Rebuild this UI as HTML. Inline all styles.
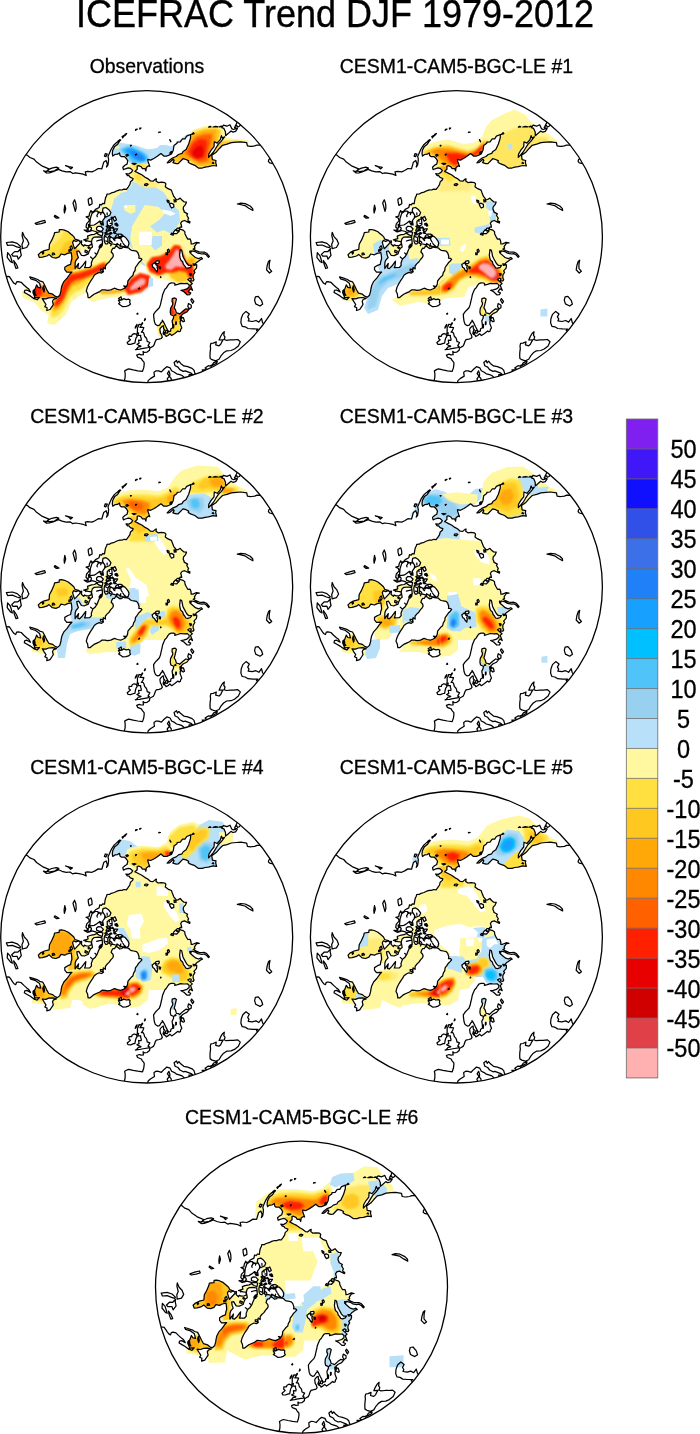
<!DOCTYPE html>
<html><head><meta charset="utf-8"><title>ICEFRAC Trend DJF 1979-2012</title>
<style>
html,body{margin:0;padding:0;background:#fff;}
body{width:700px;height:1434px;overflow:hidden;position:relative;font-family:"Liberation Sans",Arial,sans-serif;}
svg{position:absolute;left:0;top:0;display:block;}
text{font-family:"Liberation Sans",Arial,sans-serif;fill:#000;}
.ttl{font-size:36px;stroke:#000;stroke-width:0.35px;}
.sub{font-size:19.45px;stroke:#000;stroke-width:0.3px;}
.cbl{font-size:23.5px;stroke:#000;stroke-width:0.3px;}
.coast{fill:none;stroke:#000;stroke-width:1.25;stroke-linejoin:round;stroke-linecap:round;}
.ring{fill:none;stroke:#000;stroke-width:1.3;}
</style></head><body>
<svg width="700" height="1434" viewBox="0 0 700 1434">
<defs>
<filter id="bl" x="-20%" y="-20%" width="140%" height="140%"><feGaussianBlur stdDeviation="0.8"/></filter>
<clipPath id="clip"><circle cx="0" cy="0" r="146.0"/></clipPath>
<path id="coast" class="coast" d="M-22.8 145.9L-21.6 141.0L-21.5 137.4L-22.0 134.3L-19.4 132.8L-17.9 132.3L-13.5 133.3L-8.9 134.2L-4.2 134.8L-3.0 131.3L-2.5 127.7L-2.6 125.8L-4.5 123.6L-5.3 122.0L-9.1 120.5L-10.0 118.5L-7.4 117.5L-5.6 118.2L-3.3 118.0L-3.6 114.8L-2.4 115.8L0.4 115.5L2.8 113.6L3.1 111.4L4.8 110.5L6.7 109.4L7.7 107.5L8.6 104.7L9.6 103.1L12.4 102.5L14.5 101.9L15.6 100.5L14.8 97.9L13.7 96.2L13.2 92.7L13.8 91.4L15.6 89.6L16.7 89.1L17.0 92.4L17.9 92.8L17.0 94.5L16.4 96.7L17.1 97.8L19.0 98.7L19.4 99.9L21.2 98.9L23.2 97.2L25.0 98.9L28.1 96.8L31.2 94.3L32.4 95.2L33.7 94.6L33.9 93.0L35.1 91.3L33.5 87.1L33.5 84.6L34.8 83.7L36.5 85.2L37.8 84.5L36.7 81.0L35.1 80.7L34.4 79.1L36.7 77.0L40.1 75.4L42.3 72.8L39.2 72.2L36.3 74.4L32.9 77.5L31.8 76.7L29.7 76.3L28.8 73.2L27.5 71.2L28.2 68.7L29.3 64.2L29.7 62.4L28.1 61.3L25.5 62.1L25.3 64.9L26.1 66.2L25.9 68.1L23.9 71.6L23.5 75.4L24.2 78.2L27.0 79.4L26.7 81.7L25.4 84.3L25.9 87.5L26.1 91.2L24.2 92.2L23.9 94.5L21.9 95.0L20.5 92.6L18.9 89.6L16.9 85.5L15.6 83.6L15.6 85.1L14.5 85.8L12.8 88.6L10.9 89.1L8.7 87.6L7.7 85.0L7.1 80.7L6.9 77.8L8.6 75.3L10.9 72.9L12.6 71.2L13.7 68.3L14.4 65.0L15.3 61.3L15.9 58.2L17.0 55.5L18.2 52.7L19.7 51.3L21.2 48.8L22.6 47.0L24.6 46.3L27.3 46.4L28.4 47.3L28.0 48.5L31.0 47.7L33.9 46.7L37.4 47.0L40.7 46.8L42.4 48.3L42.4 50.5L40.2 52.3L36.9 53.3L34.2 53.7L37.2 55.2L40.4 58.2L43.0 58.1L44.0 56.3L41.6 55.2L43.5 52.2L45.8 53.7L43.8 48.6L45.6 46.9L43.9 45.4L41.1 42.9L43.2 41.7L44.6 42.3L44.0 44.0L46.5 44.4L47.3 43.1L46.4 41.1L46.5 38.4L48.2 35.7L47.2 34.3L49.7 31.6L50.0 30.0L50.0 28.3L48.4 27.6L50.2 25.6L52.0 24.4L53.9 22.9L55.8 22.2L54.4 20.9L51.9 22.0L48.7 20.9L47.1 19.5L44.2 17.0L43.6 15.4L45.2 14.2L48.7 15.1L51.2 16.6L55.3 17.4L57.3 17.0L59.6 18.2L61.8 20.7L62.7 19.8L60.0 16.6L57.4 15.4L55.0 15.5L52.4 15.3L49.1 13.9L46.5 12.5L48.2 11.6L47.7 10.1L48.9 8.2L50.0 6.6L52.6 6.3L49.8 5.7L46.2 7.3L44.5 7.4L44.3 4.7L43.4 2.3L41.1 2.5L39.6 0.0L38.3 -2.7L38.1 -5.0L36.5 -6.4L33.8 -7.2L32.7 -8.3L33.5 -9.6L35.0 -9.4L34.7 -11.3L34.0 -13.4L35.3 -15.3L37.9 -16.1L41.0 -14.5L43.0 -13.6L43.2 -14.9L41.5 -15.5L41.2 -17.1L41.9 -18.2L40.1 -21.3L40.9 -22.7L37.4 -24.7L37.4 -25.7L36.5 -27.5L36.8 -29.8L38.7 -31.9L39.8 -34.6L37.3 -34.8L35.2 -36.5L33.5 -38.5L31.2 -37.1L29.8 -36.8L27.1 -40.2L25.5 -44.2L24.7 -46.5L21.3 -47.9L18.6 -49.9L19.2 -52.7L18.1 -54.0L14.6 -54.4L11.5 -54.0L9.3 -55.6L9.7 -57.8L8.6 -57.4L6.3 -55.4L3.9 -55.6L1.0 -58.0L-1.6 -59.4L-4.9 -61.8L-7.8 -63.2L-10.8 -64.8L-11.8 -65.2L-9.5 -67.3L-9.5 -70.5L-8.1 -71.0L-5.5 -69.8L-4.2 -67.9L-1.8 -68.0L-0.8 -65.7L-0.4 -69.1L1.9 -70.8L3.1 -70.2L1.3 -75.2L1.1 -77.2L4.0 -76.5L7.5 -78.3L10.6 -80.3L14.2 -83.0L17.1 -80.6L20.1 -80.6L21.8 -81.3L24.8 -82.6L26.6 -86.4L27.3 -91.1L30.3 -93.3L30.5 -94.5L33.6 -94.8L35.8 -97.8L38.3 -97.8L40.0 -100.5L44.0 -102.1L43.8 -98.5L42.0 -92.6L39.4 -87.2L36.5 -85.2L35.3 -83.2L31.8 -82.1L29.5 -80.1L25.7 -78.6L22.6 -76.2L20.5 -73.8L22.7 -74.1L26.6 -77.4L27.4 -76.2L26.2 -73.9L29.5 -72.9L31.5 -73.0L36.3 -77.9L39.3 -77.1L42.0 -75.7L41.5 -74.3L43.8 -72.9L48.1 -71.3L51.7 -68.6L55.6 -68.6L58.3 -69.5L61.8 -69.9L66.3 -71.1L69.9 -70.6L69.0 -74.0L69.3 -76.1L65.7 -76.9L65.1 -81.3L69.5 -84.4L72.5 -87.9L75.8 -91.3L80.3 -92.4L84.6 -94.0L89.7 -94.5L94.1 -94.8L100.0 -93.9L100.7 -90.7L103.7 -90.2L104.9 -90.3L108.0 -90.7L110.3 -91.6L115.9 -91.5 M124.5 -79.3L122.1 -76.9L121.7 -75.2L122.9 -73.8L126.4 -73.0L128.5 -72.7 M0.5 147.7L1.5 144.0L3.7 142.0L7.8 139.5L7.5 137.6L7.3 135.6L9.4 134.2L11.8 134.3L14.7 135.3L17.4 132.4L20.1 130.1L23.4 131.2L24.9 134.2L27.8 135.6L29.9 137.2L33.2 138.1L35.4 138.9L37.8 141.0L39.7 142.2 M42.2 141.5L42.4 138.0L46.2 138.1L44.4 136.6L38.5 134.3L36.6 134.8L33.2 133.0L31.3 130.5L28.4 129.2L27.4 125.8L29.8 123.9L30.8 126.3L32.2 124.6L34.0 126.8L37.1 129.3L41.0 130.1L45.4 131.8L47.3 133.6L48.2 136.8L50.5 138.8 M57.5 136.0L55.5 133.3L58.0 133.3L60.2 132.7L58.4 131.3L61.6 129.1L63.1 129.4L64.9 128.5L64.3 130.7L65.2 132.5 M65.7 128.9L70.1 126.5L70.6 124.8L67.0 126.0L65.9 127.7Z M68.9 124.2L65.4 123.1L63.5 121.9L63.3 119.1L63.4 115.7L63.9 112.1L63.6 109.3L64.2 106.8L66.5 106.5L69.6 105.2L69.0 108.3L72.3 109.2L74.0 107.7L75.1 105.3L76.4 103.2L72.4 103.4L73.9 99.9L75.7 96.9L77.6 95.1L77.1 98.7L78.3 100.2L77.5 102.8L79.5 103.7L83.6 103.3L86.7 103.3L91.1 102.9L93.6 105.1L91.7 109.3L87.8 112.4L84.3 113.9L80.0 114.2L76.9 116.2L74.4 119.1L72.3 122.7L68.9 124.2Z M112.3 95.9L109.8 93.7L111.3 92.4L106.2 92.3L101.3 91.9L98.5 90.2L95.5 89.7L94.2 86.3L94.5 82.2L96.1 77.8L99.3 74.8L102.6 77.3L101.0 80.3L102.3 82.3L101.5 84.3L105.6 84.9L109.3 83.9L112.2 85.5L114.8 81.9L115.8 85.7L117.9 88.9 M113.3 69.4L109.0 67.3L107.9 63.6L108.7 60.3L111.5 59.8L114.8 63.7L116.0 67.5L113.3 69.4Z M122.8 36.4L119.8 33.2L120.5 28.9L121.8 24.8L123.3 23.5L122.6 27.2L122.5 31.7L125.0 34.7L122.8 36.4Z M106.2 -26.1L102.1 -28.3L98.2 -31.0L93.3 -32.1L90.6 -32.6L94.1 -33.5L98.5 -33.0L103.4 -30.6L106.0 -28.0L106.2 -26.1Z M42.6 72.3L41.1 69.8L41.8 66.9L44.6 68.6L44.5 71.1L42.6 72.3Z M45.9 66.7L44.1 63.4L45.0 62.0L47.1 64.8L45.9 66.7Z M22.1 146.0L20.5 142.2L22.2 140.0L22.5 139.2L20.7 136.9L22.2 134.3L23.2 137.4L23.0 140.2L24.5 141.9L24.9 145.6 M61.9 -79.2L62.1 -82.5L64.4 -86.4L67.3 -90.0L67.6 -94.8L70.5 -93.5L73.6 -97.0L74.7 -100.9L75.7 -98.6L77.9 -99.7L74.4 -95.2L71.7 -92.5L69.2 -88.6L66.8 -84.6L64.2 -81.6L61.9 -79.2Z M90.7 -108.0L88.9 -105.2L86.2 -104.5L84.3 -105.6L81.4 -103.0L78.9 -100.9L78.8 -104.6L77.2 -108.2L75.1 -108.9L76.6 -111.4L80.2 -110.4L83.3 -111.8L85.0 -108.0L86.7 -107.1L88.7 -107.6L87.8 -109.2L90.7 -108.0Z M94.9 -113.1L92.6 -110.3L90.9 -109.5L90.2 -111.0L88.4 -110.3L89.9 -113.0L90.9 -116.4 M-122.4 -82.6L-119.5 -81.5L-116.8 -79.1L-112.7 -77.5L-110.1 -74.5L-104.3 -70.4L-97.8 -67.7L-100.3 -65.1L-103.2 -65.8L-100.2 -63.6L-97.4 -63.8L-93.6 -65.0L-88.2 -67.2L-84.7 -65.7L-80.5 -64.7L-76.7 -65.0L-73.9 -63.1L-71.4 -63.8L-67.8 -63.3L-63.6 -62.5L-60.5 -61.1L-61.4 -64.7L-59.1 -65.2L-54.7 -64.7L-51.7 -66.1L-48.5 -68.1L-44.9 -67.8L-43.8 -71.5L-43.0 -74.4L-40.6 -76.1L-39.3 -72.4L-40.2 -69.6L-38.8 -71.4L-38.3 -74.6L-38.1 -77.4L-38.7 -80.0L-37.2 -83.6L-35.4 -87.6L-32.6 -91.9L-29.8 -94.4L-26.3 -96.7L-29.1 -92.4L-32.0 -90.2L-34.0 -86.3L-34.4 -82.9L-33.9 -80.6L-31.8 -82.1L-29.2 -82.4L-27.2 -83.7L-26.7 -81.1L-25.4 -80.0L-22.2 -80.0L-20.1 -77.8L-18.9 -75.7L-19.7 -72.5L-21.8 -71.3L-23.9 -69.4L-23.3 -66.9L-21.4 -67.8L-18.4 -68.7L-16.4 -68.3L-14.0 -66.2L-15.4 -64.2L-18.0 -62.6L-20.7 -63.0L-19.2 -61.0L-17.7 -60.9L-16.4 -59.2L-13.6 -58.1L-14.1 -56.6L-16.2 -54.8L-16.9 -52.0L-18.5 -49.6L-20.3 -47.2L-22.7 -47.5L-24.8 -46.6L-27.0 -46.7L-29.8 -45.8L-32.4 -44.5L-35.4 -43.7L-37.1 -42.6L-39.7 -42.5L-40.1 -40.8L-41.1 -39.0L-41.7 -36.2L-42.2 -32.9L-44.1 -33.2L-45.2 -31.7L-46.9 -32.2L-47.6 -29.1L-51.2 -27.2L-52.9 -25.2L-55.1 -24.5L-55.7 -26.0L-57.2 -23.1L-57.6 -20.4L-60.6 -19.7L-58.0 -18.3L-57.3 -15.9L-60.1 -12.8L-60.7 -9.6L-58.9 -7.8L-60.0 -6.3L-62.5 -6.6L-59.3 -4.7L-56.4 -5.4L-54.9 -6.1L-51.0 -5.1L-49.4 -3.9L-52.3 -2.3L-55.2 -1.9L-56.6 -1.5L-59.2 -0.5L-58.6 2.0L-63.0 3.3L-58.4 4.6L-55.4 5.0L-55.2 7.8L-57.4 8.8L-60.2 9.0L-62.3 8.2L-63.0 9.6L-65.3 7.4L-65.0 4.3L-67.0 4.7L-68.5 3.6L-71.7 2.5L-72.9 0.0L-74.0 -1.0L-76.0 -2.7L-78.5 -4.8L-82.2 -6.5L-85.1 -7.1L-87.4 -6.9L-87.6 -4.6L-92.1 -4.0L-92.7 -1.6L-94.8 3.3L-97.2 7.7L-97.6 12.8L-102.3 14.0L-106.0 15.8L-108.4 18.1L-107.3 20.9L-104.3 20.6L-99.9 19.4L-97.7 17.8L-94.3 20.9L-90.8 21.5L-87.5 20.2L-85.7 17.4L-81.9 18.2L-79.2 16.8L-75.5 16.0L-75.0 19.4L-74.8 22.2L-75.6 24.6L-76.1 27.7L-78.8 28.7L-81.9 30.6L-81.9 33.1L-79.9 35.6L-74.8 35.4L-76.7 37.4L-79.6 41.5L-82.8 45.0L-84.7 48.9L-85.5 52.4L-85.8 54.7L-86.9 58.6L-89.2 60.6L-91.7 59.6L-94.0 57.6L-97.9 56.5L-99.9 53.1L-102.0 48.7L-103.9 45.2L-107.0 44.3L-108.9 42.9L-113.5 41.3L-116.9 40.3L-115.9 42.2L-111.0 43.7L-107.1 46.6L-106.0 51.2L-108.6 50.7L-110.1 48.3L-111.6 52.5L-113.6 54.2L-113.7 56.2L-112.0 60.1L-112.3 62.3L-116.4 59.3L-120.0 57.2L-122.4 55.8L-121.9 53.8L-119.9 53.4L-116.2 55.4L-117.9 52.5L-120.0 50.9L-122.8 48.4L-125.5 45.7L-128.5 45.0L-130.1 45.3L-131.0 47.7L-132.7 46.7L-134.1 44.9L-135.5 42.7L-137.3 40.1L-138.7 39.8L-141.9 40.7 M-58.6 60.9L-59.1 57.1L-60.4 54.4L-59.4 50.7L-58.0 47.8L-56.1 44.6L-53.9 41.4L-52.4 38.7L-50.1 37.0L-47.5 35.8L-45.1 36.5L-43.2 35.2L-43.8 33.6L-43.3 30.9L-41.3 32.3L-41.3 29.4L-39.7 27.3L-37.6 25.4L-35.9 22.9L-34.0 20.8L-33.3 19.2L-33.8 17.2L-35.5 15.4L-34.7 13.0L-33.7 11.6L-32.2 11.7L-30.9 9.5L-29.3 10.1L-27.0 12.0L-24.6 11.5L-24.5 10.2L-22.1 10.8L-19.9 11.0L-18.1 11.3L-16.8 12.7L-15.3 13.7L-13.1 14.0L-10.2 14.6L-8.7 16.4L-8.1 18.2L-7.6 19.9L-7.9 21.6L-5.8 21.7L-4.8 22.8L-6.1 24.4L-8.0 26.2L-9.6 28.6L-11.3 30.9L-11.6 33.7L-13.1 36.1L-13.8 38.9L-15.5 40.3L-17.0 42.1L-18.8 44.4L-19.1 47.3L-20.2 49.9L-23.0 49.3L-21.1 51.0L-23.3 52.2L-26.1 53.4L-29.2 52.7L-32.3 51.6L-35.9 53.3L-39.1 53.8L-41.7 53.3L-44.6 53.2L-46.9 55.0L-49.8 56.3L-52.7 57.6L-55.0 59.4L-56.8 60.9L-58.6 60.9Z M-28.1 67.2L-26.8 66.2L-28.3 63.7L-25.7 63.6L-28.2 61.9L-25.6 60.2L-24.9 63.3L-23.0 62.1L-20.5 63.0L-18.0 62.6L-16.7 63.5L-17.0 65.8L-16.2 67.5L-18.2 69.1L-20.7 69.9L-23.9 70.1L-25.7 68.8L-28.1 67.2Z M-11.3 113.1L-8.9 112.7L-6.9 112.5L-4.9 112.0L-1.9 111.5L1.9 110.9L2.7 109.9L1.3 109.3L3.1 105.9L0.5 104.8L0.2 102.9L-0.4 101.4L-2.1 99.6L-2.7 97.2L-3.5 95.7L-5.3 95.6L-4.3 94.4L-3.4 92.4L-2.9 90.9L-5.5 90.5L-6.7 90.7L-4.8 87.9L-7.7 87.7L-8.3 89.7L-9.3 91.4L-9.2 93.8L-9.5 97.1L-8.1 96.3L-8.7 98.9L-6.0 98.8L-6.1 100.3L-5.4 102.2L-5.6 103.7L-8.1 103.5L-7.9 105.1L-7.6 106.6L-9.8 107.7L-8.0 108.7L-5.7 109.5L-6.3 110.1L-8.3 110.3L-10.2 112.6L-11.3 113.1Z M-11.8 106.6L-11.2 103.2L-10.6 101.2L-9.6 99.8L-10.4 97.6L-12.6 97.0L-14.5 98.0L-15.1 99.7L-17.6 99.6L-17.8 102.0L-16.3 103.2L-17.7 104.5L-19.5 106.0L-18.6 107.7L-16.1 107.8L-13.1 106.7L-11.8 106.6Z M10.4 35.3L8.7 33.5L7.8 31.7L6.2 30.6L5.4 28.0L6.5 27.2L7.6 26.3L8.7 26.8L9.6 28.6L11.1 28.9L10.3 30.7L10.9 32.5L10.5 34.4L10.4 35.3Z M8.6 25.7L9.4 24.5L10.8 24.3L12.3 24.2L12.6 25.9L11.5 27.0L9.7 26.8L8.6 25.7Z M12.6 31.9L12.4 29.9L13.9 30.4L13.6 32.1L12.6 31.9Z M45.1 28.8L43.8 30.7L41.1 31.6L39.2 31.2L38.0 29.2L36.7 27.7L36.0 25.2L34.0 23.3L33.3 20.8L32.9 18.2L33.3 15.5L33.5 13.0L35.0 13.8L35.6 16.6L36.2 19.7L37.4 22.1L38.8 24.7L40.0 26.9L42.0 28.9L45.1 28.8Z M19.4 18.1L19.3 16.2L20.9 16.4L20.7 18.0L19.4 18.1Z M21.0 15.3L20.7 13.4L21.8 12.6L22.8 14.2L22.2 15.6L21.0 15.3Z M30.0 -2.9L26.6 -3.3L27.0 -4.8L28.8 -6.9L30.2 -5.6L32.5 -5.4L30.5 -3.5L30.0 -2.9Z M31.9 -5.6L29.4 -6.8L30.6 -8.5L32.4 -8.4L32.6 -6.3L31.9 -5.6Z M26.5 -1.4L24.0 -2.1L24.9 -3.5L26.7 -2.8L26.5 -1.4Z M27.1 -29.6L24.9 -28.6L23.7 -30.3L22.8 -32.6L24.7 -33.4L27.0 -32.2L27.1 -29.6Z M22.3 -33.7L20.8 -34.6L20.3 -36.5L22.3 -35.7L22.3 -33.7Z M29.5 -34.9L27.6 -34.7L27.3 -36.9L28.8 -36.2L29.5 -34.9Z M1.4 -52.4L0.0 -51.0L-2.2 -51.5L-1.8 -52.6L0.0 -53.0L1.4 -52.4Z M-10.6 -73.0L-12.7 -72.0L-14.5 -73.2L-12.3 -73.3L-10.6 -73.0Z M-18.3 -81.3L-20.0 -80.3L-20.8 -81.6L-19.3 -82.2L-18.3 -81.3Z M-39.4 -82.6L-40.8 -80.0L-42.3 -80.5L-41.4 -83.0L-39.4 -82.6Z M-99.3 -65.5L-96.5 -65.1L-92.3 -65.8L-87.9 -68.6L-90.4 -69.4L-94.9 -68.5L-97.8 -67.2L-99.3 -65.5Z M-81.1 -71.0L-77.9 -70.1L-74.2 -69.2L-76.0 -67.7L-78.1 -69.8L-81.1 -71.0Z M-104.4 62.0L-100.9 62.3L-98.0 61.2L-93.8 60.9L-90.2 61.8L-93.2 62.9L-94.2 64.7L-93.4 67.9L-94.9 70.2L-96.7 72.9L-99.9 73.9L-99.6 71.1L-101.9 70.0L-100.7 67.9L-102.4 65.3L-104.4 62.0Z M-103.1 49.2L-102.2 53.2L-102.8 55.4L-103.9 51.8L-103.1 49.2Z M-112.0 53.9L-111.6 56.9L-110.6 58.8L-112.5 57.8L-112.8 55.0L-112.0 53.9Z M-112.3 61.0L-107.3 60.7L-109.6 63.2L-112.0 62.1L-112.3 61.0Z M-71.6 31.9L-68.1 26.8L-68.9 31.4L-67.1 32.0L-64.5 29.4L-60.9 24.6L-61.4 29.3L-62.1 31.0L-57.0 30.9L-55.2 28.8L-55.4 26.4L-53.9 22.3L-51.4 20.2L-49.5 17.1L-48.2 13.8L-46.5 10.3L-44.2 7.4L-44.4 3.9L-44.8 0.8L-48.2 0.2L-52.4 0.5L-54.3 1.9L-55.0 4.3L-55.2 5.3L-54.7 7.7L-54.2 10.5L-56.2 11.9L-57.6 14.9L-58.4 17.3L-62.3 19.0L-65.3 18.7L-67.9 14.4L-69.9 14.8L-69.4 18.0L-68.3 20.9L-70.7 23.7L-71.5 26.0L-71.6 28.9L-71.6 31.9Z M-67.9 3.6L-66.3 5.8L-67.3 7.1L-70.6 10.6L-72.1 12.1L-73.2 9.0L-74.1 5.8L-73.0 3.8L-70.7 4.9L-67.9 3.6Z M-75.2 9.2L-74.2 11.8L-75.7 13.4L-76.7 10.8L-75.2 9.2Z M-76.1 12.7L-75.6 14.0L-77.8 14.7L-77.8 13.3L-76.1 12.7Z M-92.8 16.4L-91.9 17.9L-94.3 18.3L-94.3 16.6L-92.8 16.4Z M-37.3 6.6L-36.8 4.5L-37.0 1.9L-35.7 0.3L-33.4 1.8L-31.5 2.2L-30.1 1.1L-27.3 1.9L-25.7 1.1L-24.1 -0.4L-22.2 0.0L-20.4 1.8L-18.7 4.0L-17.7 6.5L-18.3 9.3L-19.8 10.5L-21.8 10.2L-24.1 9.7L-26.4 9.1L-28.6 7.7L-31.1 8.0L-33.5 7.4L-35.5 7.2L-37.3 6.6Z M-32.0 1.4L-30.7 -1.1L-28.7 -2.5L-25.9 -2.5L-23.8 -1.2L-26.0 -0.2L-28.2 1.0L-30.1 0.5L-32.0 1.4Z M-41.1 7.3L-42.3 5.2L-42.6 1.5L-42.0 -1.5L-38.9 -2.0L-36.0 -4.1L-36.7 -1.9L-38.2 0.0L-38.9 2.0L-38.8 4.1L-38.5 6.1L-39.7 7.4L-41.1 7.3Z M-44.6 -0.4L-43.8 -4.2L-46.5 -4.9L-49.4 -4.3L-49.5 -3.0L-47.3 -1.7L-44.6 -0.4Z M-44.8 -5.5L-43.3 -7.6L-45.7 -10.1L-48.5 -10.3L-50.2 -8.9L-50.0 -6.6L-47.3 -5.8L-44.8 -5.5Z M-55.4 -8.8L-55.2 -7.8L-56.9 -5.5L-58.6 -5.6L-58.5 -8.7L-56.6 -10.0L-55.4 -8.8Z M-57.0 -11.1L-56.6 -15.2L-56.3 -18.3L-54.7 -23.2L-51.4 -25.6L-49.0 -25.5L-48.4 -23.6L-45.5 -24.2L-43.4 -24.0L-41.8 -21.7L-42.0 -18.7L-44.0 -16.0L-43.4 -12.4L-45.7 -12.3L-47.2 -15.3L-49.8 -13.3L-52.5 -11.6L-57.0 -11.1Z M-43.7 -28.4L-40.8 -29.1L-38.1 -27.2L-35.8 -24.1L-36.9 -21.3L-41.0 -19.5L-42.0 -21.9L-44.2 -25.5L-43.7 -28.4Z M-37.6 -10.4L-34.5 -11.9L-34.7 -15.1L-35.0 -17.8L-37.5 -17.1L-39.5 -15.2L-39.4 -12.1L-37.6 -10.4Z M-39.8 -5.2L-35.9 -6.3L-37.5 -8.6L-39.5 -8.4L-40.7 -6.4L-39.8 -5.2Z M-41.1 -2.5L-39.4 -3.4L-40.4 -4.6L-41.9 -3.7L-41.1 -2.5Z M-32.2 -15.4L-30.2 -16.8L-31.7 -20.2L-33.9 -18.8L-32.2 -15.4Z M-32.0 -4.5L-30.1 -5.9L-29.1 -7.8L-31.4 -7.8L-33.0 -5.8L-32.0 -4.5Z M-31.4 -11.4L-29.5 -11.9L-30.1 -13.4L-31.8 -12.8L-31.4 -11.4Z M-46.0 11.1L-44.5 9.1L-44.8 7.3L-46.4 8.2L-46.0 11.1Z M-124.2 -4.3L-122.4 0.0L-119.5 3.1L-117.8 7.2L-120.0 10.9L-124.3 12.0L-124.7 7.6L-123.3 4.3L-124.6 -1.1L-124.2 -4.3Z M-140.3 5.9L-134.4 5.2L-129.5 6.8L-126.1 9.9L-127.0 11.1L-129.9 10.2L-134.3 8.4L-139.1 8.8L-140.3 5.9Z M-125.9 12.1L-126.3 14.4L-125.4 18.7L-128.4 22.6L-129.5 19.4L-133.7 19.5L-135.0 17.8L-132.0 15.0L-128.8 15.1L-125.9 12.1Z M-139.1 16.1L-136.4 19.2L-134.3 26.1L-136.1 25.2L-139.5 20.8L-139.1 16.1Z M-133.0 23.9L-130.3 27.7L-128.8 31.4L-130.7 31.9L-132.5 26.9L-133.0 23.9Z M-111.6 -13.3L-106.8 -15.0L-102.0 -16.2L-101.3 -14.2L-105.5 -13.0L-110.2 -12.2L-111.6 -13.3Z M-81.9 -31.4L-81.0 -27.9L-82.3 -23.6L-82.6 -26.8L-81.9 -31.4Z M-72.1 -36.8L-70.8 -33.0L-70.5 -28.5L-71.4 -25.3L-72.7 -30.1L-73.7 -33.6L-72.1 -36.8Z M-55.7 -39.0L-54.8 -36.3L-54.6 -32.8L-57.5 -31.2L-58.3 -34.4L-58.5 -37.3L-55.7 -39.0Z M-91.8 -21.2L-87.8 -18.7L-90.3 -18.4L-92.4 -20.1L-91.8 -21.2Z M-32.6 -4.6L-30.5 -3.2L-32.2 -3.1L-33.2 -4.1Z M-33.1 -7.7L-32.3 -6.3L-33.4 -6.2Z M-34.3 -9.8L-32.7 -8.4L-34.1 -8.5L-34.7 -9.3Z M-29.4 -12.8L-28.7 -11.0L-29.7 -10.5L-30.4 -12.0Z M-36.3 -9.7L-35.5 -8.5L-37.0 -8.2L-37.6 -9.4Z M-39.8 -10.7L-38.9 -9.7L-39.8 -9.4L-40.5 -10.3Z M-34.4 -19.5L-33.9 -18.0L-35.1 -18.1L-35.5 -19.3Z M-44.9 -13.3L-43.3 -11.6L-45.3 -11.7Z M-61.4 13.6L-59.1 14.7L-59.8 16.3L-61.8 15.4Z M-103.7 14.6L-102.9 16.3L-103.9 17.4L-104.5 15.6Z M-46.3 32.6L-43.4 32.7L-44.0 34.7L-46.2 34.2Z M-8.3 52.3L-7.2 51.3L-7.2 52.0Z M13.8 40.9L14.0 40.1L14.3 40.6Z M43.7 39.0L42.9 36.9L44.6 37.1L44.6 38.4Z M47.1 28.8L46.4 27.3L48.5 27.5L48.5 28.6Z M43.3 16.2L43.1 14.4L44.5 14.5L44.2 16.1Z M-9.9 77.4L-9.0 76.5L-8.8 77.6Z M-2.3 83.9L-1.6 81.8L-1.3 83.0Z M-5.0 87.0L-4.2 86.1L-4.1 87.0Z M-11.0 89.7L-9.7 87.8L-9.7 89.3L-11.5 91.4Z M29.0 88.1L29.0 85.3L29.7 85.3L29.6 87.6Z M26.9 91.3L27.0 89.0L27.0 87.8L27.1 89.6Z M33.6 83.2L33.4 81.4L34.8 80.8L35.2 81.6L34.2 82.7Z M33.2 80.9L33.4 79.8L34.1 80.3Z M19.1 96.3L18.8 94.2L20.7 93.5L21.2 95.5L20.5 96.6Z M16.8 97.0L16.8 95.4L18.3 96.1L18.0 97.1Z M28.0 78.8L28.6 77.6L29.3 78.3Z M-26.0 -96.5L-28.0 -94.7L-28.8 -95.4L-26.9 -96.9Z M-21.9 -101.5L-24.1 -98.8L-24.6 -100.0Z M-20.0 -103.1L-21.8 -100.9L-21.7 -102.2Z M-9.4 -107.4L-11.2 -106.3L-10.9 -107.3Z M-5.7 -108.6L-6.8 -107.6L-7.0 -108.5Z M13.8 -104.5L12.0 -104.1L12.3 -104.6Z M24.2 -94.8L23.4 -95.9L23.1 -96.9L24.0 -95.5Z M47.4 -103.0L45.1 -102.3L46.7 -103.9Z M71.3 -109.8L66.4 -109.6L68.9 -110.3Z M75.6 -110.1L72.6 -109.8L74.5 -110.4Z M64.3 -109.7L62.0 -109.5L63.2 -110.3Z M25.1 -84.7L23.3 -83.0L23.4 -84.2L24.7 -85.1Z M67.1 -73.2L65.5 -73.5L66.4 -74.3Z M-10.1 -82.4L-11.0 -81.4L-11.2 -82.1Z M-15.3 -91.2L-16.0 -90.6L-16.2 -91.2Z M-60.7 3.7L-59.8 4.4L-61.0 4.7Z M-58.0 10.2L-57.0 11.1L-58.0 11.8L-58.7 10.9Z M-57.3 -12.2L-57.1 -10.6L-58.0 -10.2L-58.3 -11.9Z M-35.4 -4.0L-34.7 -3.0L-35.8 -2.8L-36.3 -3.8Z M-36.8 -0.3L-35.9 0.3L-36.9 0.6Z M-24.6 -0.9L-26.0 1.4L-25.5 3.6L-24.4 5.2 M-20.8 9.7L-22.6 8.2L-23.8 6.4 M-33.4 1.2L-33.1 2.9L-31.8 3.9 M-37.1 3.9L-35.3 5.0L-34.6 6.1 M-28.5 -1.5L-28.2 -0.5L-27.4 0.0 M-44.7 3.1L-48.0 3.8L-50.0 4.4 M-46.4 8.2L-47.5 9.7L-47.5 11.0 M-50.6 17.4L-51.8 16.3 M-54.8 21.6L-56.1 20.4 M-47.7 -24.8L-49.8 -21.1L-49.4 -19.9 M-45.5 -24.2L-46.0 -22.0 M-44.8 -14.5L-47.1 -15.6 M-37.5 -17.1L-37.4 -15.1 M-35.0 -13.1L-36.6 -13.3 M-37.8 -7.0L-39.0 -6.5 M-41.2 0.0L-39.8 0.7 M-41.0 4.3L-39.5 4.9 M-39.6 -23.8L-39.5 -21.9 M-30.0 9.7L-30.2 8.1L-29.6 6.8 M-26.6 10.2L-26.3 8.5L-25.9 6.9 M-36.0 9.0L-35.2 7.5"/>
<path id="land" fill="#fff" d="M-22.8 145.9L-21.6 141.0L-21.5 137.4L-22.0 134.3L-19.4 132.8L-17.9 132.3L-13.5 133.3L-8.9 134.2L-4.2 134.8L-3.0 131.3L-2.5 127.7L-2.6 125.8L-4.5 123.6L-5.3 122.0L-9.1 120.5L-10.0 118.5L-7.4 117.5L-5.6 118.2L-3.3 118.0L-3.6 114.8L-2.4 115.8L0.4 115.5L2.8 113.6L3.1 111.4L4.8 110.5L6.7 109.4L7.7 107.5L8.6 104.7L9.6 103.1L12.4 102.5L14.5 101.9L15.6 100.5L14.8 97.9L13.7 96.2L13.2 92.7L13.8 91.4L15.6 89.6L16.7 89.1L17.0 92.4L17.9 92.8L17.0 94.5L16.4 96.7L17.1 97.8L19.0 98.7L19.4 99.9L21.2 98.9L23.2 97.2L25.0 98.9L28.1 96.8L31.2 94.3L32.4 95.2L33.7 94.6L33.9 93.0L35.1 91.3L33.5 87.1L33.5 84.6L34.8 83.7L36.5 85.2L37.8 84.5L36.7 81.0L35.1 80.7L34.4 79.1L36.7 77.0L40.1 75.4L42.3 72.8L39.2 72.2L36.3 74.4L32.9 77.5L31.8 76.7L29.7 76.3L28.8 73.2L27.5 71.2L28.2 68.7L29.3 64.2L29.7 62.4L28.1 61.3L25.5 62.1L25.3 64.9L26.1 66.2L25.9 68.1L23.9 71.6L23.5 75.4L24.2 78.2L27.0 79.4L26.7 81.7L25.4 84.3L25.9 87.5L26.1 91.2L24.2 92.2L23.9 94.5L21.9 95.0L20.5 92.6L18.9 89.6L16.9 85.5L15.6 83.6L15.6 85.1L14.5 85.8L12.8 88.6L10.9 89.1L8.7 87.6L7.7 85.0L7.1 80.7L6.9 77.8L8.6 75.3L10.9 72.9L12.6 71.2L13.7 68.3L14.4 65.0L15.3 61.3L15.9 58.2L17.0 55.5L18.2 52.7L19.7 51.3L21.2 48.8L22.6 47.0L24.6 46.3L27.3 46.4L28.4 47.3L28.0 48.5L31.0 47.7L33.9 46.7L37.4 47.0L40.7 46.8L42.4 48.3L42.4 50.5L40.2 52.3L36.9 53.3L34.2 53.7L37.2 55.2L40.4 58.2L43.0 58.1L44.0 56.3L41.6 55.2L43.5 52.2L45.8 53.7L43.8 48.6L45.6 46.9L43.9 45.4L41.1 42.9L43.2 41.7L44.6 42.3L44.0 44.0L46.5 44.4L47.3 43.1L46.4 41.1L46.5 38.4L48.2 35.7L47.2 34.3L49.7 31.6L50.0 30.0L50.0 28.3L48.4 27.6L50.2 25.6L52.0 24.4L53.9 22.9L55.8 22.2L54.4 20.9L51.9 22.0L48.7 20.9L47.1 19.5L44.2 17.0L43.6 15.4L45.2 14.2L48.7 15.1L51.2 16.6L55.3 17.4L57.3 17.0L59.6 18.2L61.8 20.7L62.7 19.8L60.0 16.6L57.4 15.4L55.0 15.5L52.4 15.3L49.1 13.9L46.5 12.5L48.2 11.6L47.7 10.1L48.9 8.2L50.0 6.6L52.6 6.3L49.8 5.7L46.2 7.3L44.5 7.4L44.3 4.7L43.4 2.3L41.1 2.5L39.6 0.0L38.3 -2.7L38.1 -5.0L36.5 -6.4L33.8 -7.2L32.7 -8.3L33.5 -9.6L35.0 -9.4L34.7 -11.3L34.0 -13.4L35.3 -15.3L37.9 -16.1L41.0 -14.5L43.0 -13.6L43.2 -14.9L41.5 -15.5L41.2 -17.1L41.9 -18.2L40.1 -21.3L40.9 -22.7L37.4 -24.7L37.4 -25.7L36.5 -27.5L36.8 -29.8L38.7 -31.9L39.8 -34.6L37.3 -34.8L35.2 -36.5L33.5 -38.5L31.2 -37.1L29.8 -36.8L27.1 -40.2L25.5 -44.2L24.7 -46.5L21.3 -47.9L18.6 -49.9L19.2 -52.7L18.1 -54.0L14.6 -54.4L11.5 -54.0L9.3 -55.6L9.7 -57.8L8.6 -57.4L6.3 -55.4L3.9 -55.6L1.0 -58.0L-1.6 -59.4L-4.9 -61.8L-7.8 -63.2L-10.8 -64.8L-11.8 -65.2L-9.5 -67.3L-9.5 -70.5L-8.1 -71.0L-5.5 -69.8L-4.2 -67.9L-1.8 -68.0L-0.8 -65.7L-0.4 -69.1L1.9 -70.8L3.1 -70.2L1.3 -75.2L1.1 -77.2L4.0 -76.5L7.5 -78.3L10.6 -80.3L14.2 -83.0L17.1 -80.6L20.1 -80.6L21.8 -81.3L24.8 -82.6L26.6 -86.4L27.3 -91.1L30.3 -93.3L30.5 -94.5L33.6 -94.8L35.8 -97.8L38.3 -97.8L40.0 -100.5L44.0 -102.1L43.8 -98.5L42.0 -92.6L39.4 -87.2L36.5 -85.2L35.3 -83.2L31.8 -82.1L29.5 -80.1L25.7 -78.6L22.6 -76.2L20.5 -73.8L22.7 -74.1L26.6 -77.4L27.4 -76.2L26.2 -73.9L29.5 -72.9L31.5 -73.0L36.3 -77.9L39.3 -77.1L42.0 -75.7L41.5 -74.3L43.8 -72.9L48.1 -71.3L51.7 -68.6L55.6 -68.6L58.3 -69.5L61.8 -69.9L66.3 -71.1L69.9 -70.6L69.0 -74.0L69.3 -76.1L65.7 -76.9L65.1 -81.3L69.5 -84.4L72.5 -87.9L75.8 -91.3L80.3 -92.4L84.6 -94.0L89.7 -94.5L94.1 -94.8L100.0 -93.9L100.7 -90.7L103.7 -90.2L104.9 -90.3L108.0 -90.7L110.3 -91.6L115.9 -91.5L156.5 -123.6L175.3 -95.2L188.9 -64.0L197.1 -30.9L199.4 3.1L196.0 37.0L186.8 69.9L172.2 100.6L152.6 128.5L128.5 152.6L100.6 172.2L69.9 186.8L37.0 196.0L3.1 199.4L-30.9 197.1Z M-122.4 -82.6L-119.5 -81.5L-116.8 -79.1L-112.7 -77.5L-110.1 -74.5L-104.3 -70.4L-97.8 -67.7L-100.3 -65.1L-103.2 -65.8L-100.2 -63.6L-97.4 -63.8L-93.6 -65.0L-88.2 -67.2L-84.7 -65.7L-80.5 -64.7L-76.7 -65.0L-73.9 -63.1L-71.4 -63.8L-67.8 -63.3L-63.6 -62.5L-60.5 -61.1L-61.4 -64.7L-59.1 -65.2L-54.7 -64.7L-51.7 -66.1L-48.5 -68.1L-44.9 -67.8L-43.8 -71.5L-43.0 -74.4L-40.6 -76.1L-39.3 -72.4L-40.2 -69.6L-38.8 -71.4L-38.3 -74.6L-38.1 -77.4L-38.7 -80.0L-37.2 -83.6L-35.4 -87.6L-32.6 -91.9L-29.8 -94.4L-26.3 -96.7L-29.1 -92.4L-32.0 -90.2L-34.0 -86.3L-34.4 -82.9L-33.9 -80.6L-31.8 -82.1L-29.2 -82.4L-27.2 -83.7L-26.7 -81.1L-25.4 -80.0L-22.2 -80.0L-20.1 -77.8L-18.9 -75.7L-19.7 -72.5L-21.8 -71.3L-23.9 -69.4L-23.3 -66.9L-21.4 -67.8L-18.4 -68.7L-16.4 -68.3L-14.0 -66.2L-15.4 -64.2L-18.0 -62.6L-20.7 -63.0L-19.2 -61.0L-17.7 -60.9L-16.4 -59.2L-13.6 -58.1L-14.1 -56.6L-16.2 -54.8L-16.9 -52.0L-18.5 -49.6L-20.3 -47.2L-22.7 -47.5L-24.8 -46.6L-27.0 -46.7L-29.8 -45.8L-32.4 -44.5L-35.4 -43.7L-37.1 -42.6L-39.7 -42.5L-40.1 -40.8L-41.1 -39.0L-41.7 -36.2L-42.2 -32.9L-44.1 -33.2L-45.2 -31.7L-46.9 -32.2L-47.6 -29.1L-51.2 -27.2L-52.9 -25.2L-55.1 -24.5L-55.7 -26.0L-57.2 -23.1L-57.6 -20.4L-60.6 -19.7L-58.0 -18.3L-57.3 -15.9L-60.1 -12.8L-60.7 -9.6L-58.9 -7.8L-60.0 -6.3L-62.5 -6.6L-59.3 -4.7L-56.4 -5.4L-54.9 -6.1L-51.0 -5.1L-49.4 -3.9L-52.3 -2.3L-55.2 -1.9L-56.6 -1.5L-59.2 -0.5L-58.6 2.0L-63.0 3.3L-58.4 4.6L-55.4 5.0L-55.2 7.8L-57.4 8.8L-60.2 9.0L-62.3 8.2L-63.0 9.6L-65.3 7.4L-65.0 4.3L-67.0 4.7L-68.5 3.6L-71.7 2.5L-72.9 0.0L-74.0 -1.0L-76.0 -2.7L-78.5 -4.8L-82.2 -6.5L-85.1 -7.1L-87.4 -6.9L-87.6 -4.6L-92.1 -4.0L-92.7 -1.6L-94.8 3.3L-97.2 7.7L-97.6 12.8L-102.3 14.0L-106.0 15.8L-108.4 18.1L-107.3 20.9L-104.3 20.6L-99.9 19.4L-97.7 17.8L-94.3 20.9L-90.8 21.5L-87.5 20.2L-85.7 17.4L-81.9 18.2L-79.2 16.8L-75.5 16.0L-75.0 19.4L-74.8 22.2L-75.6 24.6L-76.1 27.7L-78.8 28.7L-81.9 30.6L-81.9 33.1L-79.9 35.6L-74.8 35.4L-76.7 37.4L-79.6 41.5L-82.8 45.0L-84.7 48.9L-85.5 52.4L-85.8 54.7L-86.9 58.6L-89.2 60.6L-91.7 59.6L-94.0 57.6L-97.9 56.5L-99.9 53.1L-102.0 48.7L-103.9 45.2L-107.0 44.3L-108.9 42.9L-113.5 41.3L-116.9 40.3L-115.9 42.2L-111.0 43.7L-107.1 46.6L-106.0 51.2L-108.6 50.7L-110.1 48.3L-111.6 52.5L-113.6 54.2L-113.7 56.2L-112.0 60.1L-112.3 62.3L-116.4 59.3L-120.0 57.2L-122.4 55.8L-121.9 53.8L-119.9 53.4L-116.2 55.4L-117.9 52.5L-120.0 50.9L-122.8 48.4L-125.5 45.7L-128.5 45.0L-130.1 45.3L-131.0 47.7L-132.7 46.7L-134.1 44.9L-135.5 42.7L-137.3 40.1L-138.7 39.8L-141.9 40.7L-191.7 55.0L-197.7 26.6L-199.5 -2.3L-197.0 -31.2L-190.4 -59.4L-179.8 -86.4L-165.4 -111.5Z M61.9 -79.2L62.1 -82.5L64.4 -86.4L67.3 -90.0L67.6 -94.8L70.5 -93.5L73.6 -97.0L74.7 -100.9L75.7 -98.6L77.9 -99.7L74.4 -95.2L71.7 -92.5L69.2 -88.6L66.8 -84.6L64.2 -81.6L61.9 -79.2Z M90.7 -108.0L88.9 -105.2L86.2 -104.5L84.3 -105.6L81.4 -103.0L78.9 -100.9L78.8 -104.6L77.2 -108.2L75.1 -108.9L76.6 -111.4L80.2 -110.4L83.3 -111.8L85.0 -108.0L86.7 -107.1L88.7 -107.6L87.8 -109.2L90.7 -108.0Z M-58.6 60.9L-59.1 57.1L-60.4 54.4L-59.4 50.7L-58.0 47.8L-56.1 44.6L-53.9 41.4L-52.4 38.7L-50.1 37.0L-47.5 35.8L-45.1 36.5L-43.2 35.2L-43.8 33.6L-43.3 30.9L-41.3 32.3L-41.3 29.4L-39.7 27.3L-37.6 25.4L-35.9 22.9L-34.0 20.8L-33.3 19.2L-33.8 17.2L-35.5 15.4L-34.7 13.0L-33.7 11.6L-32.2 11.7L-30.9 9.5L-29.3 10.1L-27.0 12.0L-24.6 11.5L-24.5 10.2L-22.1 10.8L-19.9 11.0L-18.1 11.3L-16.8 12.7L-15.3 13.7L-13.1 14.0L-10.2 14.6L-8.7 16.4L-8.1 18.2L-7.6 19.9L-7.9 21.6L-5.8 21.7L-4.8 22.8L-6.1 24.4L-8.0 26.2L-9.6 28.6L-11.3 30.9L-11.6 33.7L-13.1 36.1L-13.8 38.9L-15.5 40.3L-17.0 42.1L-18.8 44.4L-19.1 47.3L-20.2 49.9L-23.0 49.3L-21.1 51.0L-23.3 52.2L-26.1 53.4L-29.2 52.7L-32.3 51.6L-35.9 53.3L-39.1 53.8L-41.7 53.3L-44.6 53.2L-46.9 55.0L-49.8 56.3L-52.7 57.6L-55.0 59.4L-56.8 60.9L-58.6 60.9Z M-28.1 67.2L-26.8 66.2L-28.3 63.7L-25.7 63.6L-28.2 61.9L-25.6 60.2L-24.9 63.3L-23.0 62.1L-20.5 63.0L-18.0 62.6L-16.7 63.5L-17.0 65.8L-16.2 67.5L-18.2 69.1L-20.7 69.9L-23.9 70.1L-25.7 68.8L-28.1 67.2Z M-11.3 113.1L-8.9 112.7L-6.9 112.5L-4.9 112.0L-1.9 111.5L1.9 110.9L2.7 109.9L1.3 109.3L3.1 105.9L0.5 104.8L0.2 102.9L-0.4 101.4L-2.1 99.6L-2.7 97.2L-3.5 95.7L-5.3 95.6L-4.3 94.4L-3.4 92.4L-2.9 90.9L-5.5 90.5L-6.7 90.7L-4.8 87.9L-7.7 87.7L-8.3 89.7L-9.3 91.4L-9.2 93.8L-9.5 97.1L-8.1 96.3L-8.7 98.9L-6.0 98.8L-6.1 100.3L-5.4 102.2L-5.6 103.7L-8.1 103.5L-7.9 105.1L-7.6 106.6L-9.8 107.7L-8.0 108.7L-5.7 109.5L-6.3 110.1L-8.3 110.3L-10.2 112.6L-11.3 113.1Z M-11.8 106.6L-11.2 103.2L-10.6 101.2L-9.6 99.8L-10.4 97.6L-12.6 97.0L-14.5 98.0L-15.1 99.7L-17.6 99.6L-17.8 102.0L-16.3 103.2L-17.7 104.5L-19.5 106.0L-18.6 107.7L-16.1 107.8L-13.1 106.7L-11.8 106.6Z M10.4 35.3L8.7 33.5L7.8 31.7L6.2 30.6L5.4 28.0L6.5 27.2L7.6 26.3L8.7 26.8L9.6 28.6L11.1 28.9L10.3 30.7L10.9 32.5L10.5 34.4L10.4 35.3Z M8.6 25.7L9.4 24.5L10.8 24.3L12.3 24.2L12.6 25.9L11.5 27.0L9.7 26.8L8.6 25.7Z M12.6 31.9L12.4 29.9L13.9 30.4L13.6 32.1L12.6 31.9Z M45.1 28.8L43.8 30.7L41.1 31.6L39.2 31.2L38.0 29.2L36.7 27.7L36.0 25.2L34.0 23.3L33.3 20.8L32.9 18.2L33.3 15.5L33.5 13.0L35.0 13.8L35.6 16.6L36.2 19.7L37.4 22.1L38.8 24.7L40.0 26.9L42.0 28.9L45.1 28.8Z M19.4 18.1L19.3 16.2L20.9 16.4L20.7 18.0L19.4 18.1Z M21.0 15.3L20.7 13.4L21.8 12.6L22.8 14.2L22.2 15.6L21.0 15.3Z M30.0 -2.9L26.6 -3.3L27.0 -4.8L28.8 -6.9L30.2 -5.6L32.5 -5.4L30.5 -3.5L30.0 -2.9Z M31.9 -5.6L29.4 -6.8L30.6 -8.5L32.4 -8.4L32.6 -6.3L31.9 -5.6Z M26.5 -1.4L24.0 -2.1L24.9 -3.5L26.7 -2.8L26.5 -1.4Z M27.1 -29.6L24.9 -28.6L23.7 -30.3L22.8 -32.6L24.7 -33.4L27.0 -32.2L27.1 -29.6Z M22.3 -33.7L20.8 -34.6L20.3 -36.5L22.3 -35.7L22.3 -33.7Z M29.5 -34.9L27.6 -34.7L27.3 -36.9L28.8 -36.2L29.5 -34.9Z M1.4 -52.4L0.0 -51.0L-2.2 -51.5L-1.8 -52.6L0.0 -53.0L1.4 -52.4Z M-10.6 -73.0L-12.7 -72.0L-14.5 -73.2L-12.3 -73.3L-10.6 -73.0Z M-18.3 -81.3L-20.0 -80.3L-20.8 -81.6L-19.3 -82.2L-18.3 -81.3Z M-39.4 -82.6L-40.8 -80.0L-42.3 -80.5L-41.4 -83.0L-39.4 -82.6Z M-99.3 -65.5L-96.5 -65.1L-92.3 -65.8L-87.9 -68.6L-90.4 -69.4L-94.9 -68.5L-97.8 -67.2L-99.3 -65.5Z M-81.1 -71.0L-77.9 -70.1L-74.2 -69.2L-76.0 -67.7L-78.1 -69.8L-81.1 -71.0Z M-104.4 62.0L-100.9 62.3L-98.0 61.2L-93.8 60.9L-90.2 61.8L-93.2 62.9L-94.2 64.7L-93.4 67.9L-94.9 70.2L-96.7 72.9L-99.9 73.9L-99.6 71.1L-101.9 70.0L-100.7 67.9L-102.4 65.3L-104.4 62.0Z M-103.1 49.2L-102.2 53.2L-102.8 55.4L-103.9 51.8L-103.1 49.2Z M-112.0 53.9L-111.6 56.9L-110.6 58.8L-112.5 57.8L-112.8 55.0L-112.0 53.9Z M-112.3 61.0L-107.3 60.7L-109.6 63.2L-112.0 62.1L-112.3 61.0Z M-71.6 31.9L-68.1 26.8L-68.9 31.4L-67.1 32.0L-64.5 29.4L-60.9 24.6L-61.4 29.3L-62.1 31.0L-57.0 30.9L-55.2 28.8L-55.4 26.4L-53.9 22.3L-51.4 20.2L-49.5 17.1L-48.2 13.8L-46.5 10.3L-44.2 7.4L-44.4 3.9L-44.8 0.8L-48.2 0.2L-52.4 0.5L-54.3 1.9L-55.0 4.3L-55.2 5.3L-54.7 7.7L-54.2 10.5L-56.2 11.9L-57.6 14.9L-58.4 17.3L-62.3 19.0L-65.3 18.7L-67.9 14.4L-69.9 14.8L-69.4 18.0L-68.3 20.9L-70.7 23.7L-71.5 26.0L-71.6 28.9L-71.6 31.9Z M-67.9 3.6L-66.3 5.8L-67.3 7.1L-70.6 10.6L-72.1 12.1L-73.2 9.0L-74.1 5.8L-73.0 3.8L-70.7 4.9L-67.9 3.6Z M-75.2 9.2L-74.2 11.8L-75.7 13.4L-76.7 10.8L-75.2 9.2Z M-76.1 12.7L-75.6 14.0L-77.8 14.7L-77.8 13.3L-76.1 12.7Z M-92.8 16.4L-91.9 17.9L-94.3 18.3L-94.3 16.6L-92.8 16.4Z M-37.3 6.6L-36.8 4.5L-37.0 1.9L-35.7 0.3L-33.4 1.8L-31.5 2.2L-30.1 1.1L-27.3 1.9L-25.7 1.1L-24.1 -0.4L-22.2 0.0L-20.4 1.8L-18.7 4.0L-17.7 6.5L-18.3 9.3L-19.8 10.5L-21.8 10.2L-24.1 9.7L-26.4 9.1L-28.6 7.7L-31.1 8.0L-33.5 7.4L-35.5 7.2L-37.3 6.6Z M-32.0 1.4L-30.7 -1.1L-28.7 -2.5L-25.9 -2.5L-23.8 -1.2L-26.0 -0.2L-28.2 1.0L-30.1 0.5L-32.0 1.4Z M-41.1 7.3L-42.3 5.2L-42.6 1.5L-42.0 -1.5L-38.9 -2.0L-36.0 -4.1L-36.7 -1.9L-38.2 0.0L-38.9 2.0L-38.8 4.1L-38.5 6.1L-39.7 7.4L-41.1 7.3Z M-44.6 -0.4L-43.8 -4.2L-46.5 -4.9L-49.4 -4.3L-49.5 -3.0L-47.3 -1.7L-44.6 -0.4Z M-44.8 -5.5L-43.3 -7.6L-45.7 -10.1L-48.5 -10.3L-50.2 -8.9L-50.0 -6.6L-47.3 -5.8L-44.8 -5.5Z M-55.4 -8.8L-55.2 -7.8L-56.9 -5.5L-58.6 -5.6L-58.5 -8.7L-56.6 -10.0L-55.4 -8.8Z M-57.0 -11.1L-56.6 -15.2L-56.3 -18.3L-54.7 -23.2L-51.4 -25.6L-49.0 -25.5L-48.4 -23.6L-45.5 -24.2L-43.4 -24.0L-41.8 -21.7L-42.0 -18.7L-44.0 -16.0L-43.4 -12.4L-45.7 -12.3L-47.2 -15.3L-49.8 -13.3L-52.5 -11.6L-57.0 -11.1Z M-43.7 -28.4L-40.8 -29.1L-38.1 -27.2L-35.8 -24.1L-36.9 -21.3L-41.0 -19.5L-42.0 -21.9L-44.2 -25.5L-43.7 -28.4Z M-37.6 -10.4L-34.5 -11.9L-34.7 -15.1L-35.0 -17.8L-37.5 -17.1L-39.5 -15.2L-39.4 -12.1L-37.6 -10.4Z M-39.8 -5.2L-35.9 -6.3L-37.5 -8.6L-39.5 -8.4L-40.7 -6.4L-39.8 -5.2Z M-41.1 -2.5L-39.4 -3.4L-40.4 -4.6L-41.9 -3.7L-41.1 -2.5Z M-32.2 -15.4L-30.2 -16.8L-31.7 -20.2L-33.9 -18.8L-32.2 -15.4Z M-32.0 -4.5L-30.1 -5.9L-29.1 -7.8L-31.4 -7.8L-33.0 -5.8L-32.0 -4.5Z M-31.4 -11.4L-29.5 -11.9L-30.1 -13.4L-31.8 -12.8L-31.4 -11.4Z M-46.0 11.1L-44.5 9.1L-44.8 7.3L-46.4 8.2L-46.0 11.1Z M-32.6 -4.6L-30.5 -3.2L-32.2 -3.1L-33.2 -4.1Z M-33.1 -7.7L-32.3 -6.3L-33.4 -6.2Z M-34.3 -9.8L-32.7 -8.4L-34.1 -8.5L-34.7 -9.3Z M-29.4 -12.8L-28.7 -11.0L-29.7 -10.5L-30.4 -12.0Z M-36.3 -9.7L-35.5 -8.5L-37.0 -8.2L-37.6 -9.4Z M-39.8 -10.7L-38.9 -9.7L-39.8 -9.4L-40.5 -10.3Z M-34.4 -19.5L-33.9 -18.0L-35.1 -18.1L-35.5 -19.3Z M-44.9 -13.3L-43.3 -11.6L-45.3 -11.7Z M-61.4 13.6L-59.1 14.7L-59.8 16.3L-61.8 15.4Z M-103.7 14.6L-102.9 16.3L-103.9 17.4L-104.5 15.6Z M-46.3 32.6L-43.4 32.7L-44.0 34.7L-46.2 34.2Z M-8.3 52.3L-7.2 51.3L-7.2 52.0Z M13.8 40.9L14.0 40.1L14.3 40.6Z M43.7 39.0L42.9 36.9L44.6 37.1L44.6 38.4Z M47.1 28.8L46.4 27.3L48.5 27.5L48.5 28.6Z M43.3 16.2L43.1 14.4L44.5 14.5L44.2 16.1Z M-9.9 77.4L-9.0 76.5L-8.8 77.6Z M-2.3 83.9L-1.6 81.8L-1.3 83.0Z M-5.0 87.0L-4.2 86.1L-4.1 87.0Z M-11.0 89.7L-9.7 87.8L-9.7 89.3L-11.5 91.4Z M29.0 88.1L29.0 85.3L29.7 85.3L29.6 87.6Z M26.9 91.3L27.0 89.0L27.0 87.8L27.1 89.6Z M33.6 83.2L33.4 81.4L34.8 80.8L35.2 81.6L34.2 82.7Z M33.2 80.9L33.4 79.8L34.1 80.3Z M19.1 96.3L18.8 94.2L20.7 93.5L21.2 95.5L20.5 96.6Z M16.8 97.0L16.8 95.4L18.3 96.1L18.0 97.1Z M28.0 78.8L28.6 77.6L29.3 78.3Z M-26.0 -96.5L-28.0 -94.7L-28.8 -95.4L-26.9 -96.9Z M-21.9 -101.5L-24.1 -98.8L-24.6 -100.0Z M-20.0 -103.1L-21.8 -100.9L-21.7 -102.2Z M-9.4 -107.4L-11.2 -106.3L-10.9 -107.3Z M-5.7 -108.6L-6.8 -107.6L-7.0 -108.5Z M13.8 -104.5L12.0 -104.1L12.3 -104.6Z M24.2 -94.8L23.4 -95.9L23.1 -96.9L24.0 -95.5Z M47.4 -103.0L45.1 -102.3L46.7 -103.9Z M71.3 -109.8L66.4 -109.6L68.9 -110.3Z M75.6 -110.1L72.6 -109.8L74.5 -110.4Z M64.3 -109.7L62.0 -109.5L63.2 -110.3Z M25.1 -84.7L23.3 -83.0L23.4 -84.2L24.7 -85.1Z M67.1 -73.2L65.5 -73.5L66.4 -74.3Z M-10.1 -82.4L-11.0 -81.4L-11.2 -82.1Z M-15.3 -91.2L-16.0 -90.6L-16.2 -91.2Z M-60.7 3.7L-59.8 4.4L-61.0 4.7Z M-58.0 10.2L-57.0 11.1L-58.0 11.8L-58.7 10.9Z M-57.3 -12.2L-57.1 -10.6L-58.0 -10.2L-58.3 -11.9Z M-35.4 -4.0L-34.7 -3.0L-35.8 -2.8L-36.3 -3.8Z M-36.8 -0.3L-35.9 0.3L-36.9 0.6Z"/>
<path id="qei" fill="#fff" d="M-32.2 -20.9L-30.3 -16.1L-29.6 -10.8L-28.6 -6.6L-27.2 -2.9L-23.5 -1.2L-24.6 0.9L-30.0 2.6L-34.3 1.2L-37.6 1.3L-39.8 -1.4L-41.0 -4.3L-40.0 -10.0L-39.3 -14.3L-36.2 -18.5L-32.2 -20.9Z M-43.8 -30.7L-49.5 -28.6L-56.4 -26.3L-61.9 -20.1L-61.9 -10.9L-60.6 -5.3L-55.0 -4.8L-49.2 -6.0L-44.7 -7.9L-41.7 -11.2L-40.0 -16.2L-40.8 -19.9L-42.1 -23.4L-46.2 -23.5L-45.2 -27.1L-43.8 -30.7Z"/>
</defs>
<rect width="700" height="1434" fill="#fff"/>
<text class="ttl" transform="translate(335 26.6) scale(1 1.06)" text-anchor="middle">ICEFRAC Trend DJF 1979-2012</text>
<text class="sub" transform="translate(146.9 73.2) scale(1 1.04)" text-anchor="middle">Observations</text>
<g transform="translate(146.7 236.6)"><g clip-path="url(#clip)">
<path d="M-56.7 -23.7L-46.4 -42.6L-34.4 -49.5L-13.8 -56.3L-0.1 -51.2L15.3 -52.9L25.6 -42.6L39.3 -32.3L42.7 -15.2L39.3 2.0L32.4 8.8L18.7 19.1L3.3 26.0L-1.8 29.4L-8.7 26.0L-13.8 14.0L-19.8 5.4L-31.0 7.1L-46.4 5.4L-56.7 -1.5Z" fill="#B8E0F8"/>
<path d="M-18.1 -66.6L-5.3 -64.9L10.2 -58.0L22.2 -51.2L34.2 -39.2L44.4 -32.3L47.9 -15.2L46.2 -1.5L53.0 14.0L56.4 26.0L46.2 39.7L35.9 32.8L29.0 14.0L23.0 0.3L29.0 -8.3L33.3 -15.2L32.4 -25.5L23.9 -34.0L17.0 -44.3L8.4 -49.5L-0.1 -49.5L-5.3 -53.7L-13.8 -54.6L-19.8 -59.7Z" fill="#FFF8A0"/>
<path d="M-44.7 -37.5L-39.6 -42.6L-32.7 -46.0L-19.8 -48.6L-19.8 -45.2L-31.0 -42.6L-37.8 -38.3L-42.1 -32.3Z" fill="#FFF8A0"/>
<path d="M-18.1 -61.5L-30.1 -47.7L-38.7 -42.6L-41.8 -34.0L-49.8 -26.3L-61.0 -23.7L-62.7 -10.0L-61.0 2.0L-49.8 5.4L-45.6 -1.5L-48.1 -10.0L-45.6 -16.9L-41.8 -21.7L-35.3 -28.0L-32.7 -37.5L-25.0 -44.3L-14.7 -51.2Z" fill="#FFF8A0"/>
<path d="M-1.8 -31.5L11.9 -29.7L18.7 -23.7L12.7 -16.9L3.3 -10.0L10.2 -4.0L17.0 -6.6L23.9 -3.2L26.4 5.4L20.4 14.0L11.9 22.5L-0.1 29.4L-7.0 22.5L-13.8 12.3L-16.4 2.0L-14.7 -10.0L-8.7 -20.3Z" fill="#FFF8A0"/>
<path d="M-22.4 -31.5L-11.3 -31.5L-11.3 -24.6L-16.4 -22.9L-22.4 -26.3Z" fill="#FFF8A0"/>
<path d="M5.9 -0.6L15.3 -0.6L15.3 8.8L8.4 14.0L4.2 8.8Z" fill="#B8E0F8"/>
<path d="M-7.8 -4.9L5.0 -4.9L5.0 8.3L-7.8 8.3Z" fill="#FFFFFF"/>
<path d="M-22.4 -30.6L-19.8 -30.6L-19.8 -28.5L-22.4 -28.5Z" fill="#FFFFFF"/>
<path d="M15.3 -27.2L23.9 -25.5L29.0 -22.9L23.9 -20.7L17.0 -23.7Z" fill="#FFFFFF"/>
<path d="M-56.7 -1.5L-46.4 2.0L-36.1 7.1L-29.3 10.5L-19.8 5.4L-12.1 15.7L-5.3 26.0L-13.8 43.1L-31.0 53.4L-56.7 53.4Z" fill="#FFF8A0"/>
<path d="M-16.0 -73.7L1.2 -73.7L1.9 -68.7L-3.1 -64.5L1.2 -58.7L11.9 -54.5L10.4 -50.2L0.4 -48.7L-8.1 -51.6L-13.1 -57.3L-16.7 -64.5L-18.8 -68.7Z" fill="#FFEC80" filter="url(#bl)"/>
<path d="M-13.1 -72.7L-1.0 -72.7L-1.3 -69.0L-5.3 -68.0L-12.4 -68.7Z" fill="#FFE040" filter="url(#bl)"/>
<path d="M-12.4 -62.3L-6.0 -63.0L-3.8 -57.3L-8.1 -55.2L-11.7 -57.3Z" fill="#FFE040" filter="url(#bl)"/>
<path d="M-34.6 -83.7L-32.4 -88.7L-28.1 -94.2L-21.7 -93.0L-16.0 -92.3L-9.6 -90.9L-3.8 -88.7L1.9 -87.0L10.4 -88.7L13.3 -91.6L19.0 -91.6L24.7 -90.2L29.0 -93.7L35.4 -98.7L41.2 -103.0L45.4 -100.9L39.7 -93.7L34.0 -88.0L28.3 -82.3L22.6 -79.5L14.7 -80.9L10.4 -77.3L3.3 -74.7L1.2 -72.7L-16.0 -72.7L-18.8 -76.6L-20.3 -79.5L-25.3 -80.9L-32.4 -80.9Z" fill="#B8E0F8"/>
<path d="M-26.7 -87.3L-18.1 -90.5L-11.0 -88.5L-3.8 -84.7L1.2 -80.9L0.4 -75.9L-6.7 -73.7L-13.8 -73.7L-17.4 -76.6L-18.8 -80.9L-23.8 -83.0Z" fill="#50C4F8" filter="url(#bl)"/>
<path d="M-22.4 -87.0L-16.0 -88.7L-10.3 -85.9L-3.8 -82.3L-0.7 -78.7L-1.3 -75.9L-6.7 -75.2L-12.4 -77.3L-16.0 -80.9L-20.3 -83.7Z" fill="#18A0FF" filter="url(#bl)"/>
<path d="M-14.6 -85.9L-9.3 -83.7L-3.6 -79.5L-3.6 -76.5L-8.1 -77.0L-12.8 -80.5L-15.3 -83.6Z" fill="#2080F8" filter="url(#bl)"/>
<path d="M-31.7 -90.2L-27.4 -90.9L-27.4 -88.0L-31.7 -88.0Z" fill="#FFF8A0"/>
<path d="M21.0 -78.3L30.2 -87.5L39.3 -97.7L46.2 -106.9L57.6 -110.3L71.3 -111.0L80.4 -109.2L78.2 -100.0L85.0 -97.7L101.0 -96.6L102.2 -90.9L85.0 -90.9L73.6 -87.5L71.3 -70.3L62.2 -66.9L50.7 -68.0L41.6 -72.6L30.2 -71.5L22.2 -73.7Z" fill="#FFF8A0"/>
<path d="M23.3 -77.6L32.4 -85.2L40.4 -95.5L47.3 -104.6L57.6 -108.0L70.2 -108.7L74.7 -105.7L71.3 -95.5L80.4 -95.9L91.9 -95.5L91.9 -92.7L78.2 -92.0L70.2 -87.5L69.0 -71.5L61.0 -69.2L50.7 -70.3L41.6 -76.0L31.3 -73.7L23.8 -74.9Z" fill="#FFC820" filter="url(#bl)"/>
<path d="M31.3 -79.5L39.3 -90.9L46.2 -101.2L57.6 -105.7L69.0 -106.9L69.0 -95.5L65.6 -87.5L65.6 -73.7L53.0 -71.5L43.9 -76.7L35.9 -76.0Z" fill="#FFA808" filter="url(#bl)"/>
<path d="M38.2 -82.9L43.9 -93.2L49.6 -100.0L58.7 -102.3L65.6 -102.3L64.0 -93.2L61.7 -85.2L61.0 -75.3L52.6 -74.4L45.0 -79.0Z" fill="#FF6000" filter="url(#bl)"/>
<path d="M42.0 -85.2L46.6 -93.2L53.0 -97.3L59.9 -96.6L59.9 -88.6L58.0 -79.5L50.7 -77.2L44.3 -80.6Z" fill="#FF2000" filter="url(#bl)"/>
<path d="M45.7 -84.5L49.6 -89.7L55.3 -91.3L57.1 -85.9L55.3 -79.5L49.6 -78.5L46.2 -81.3Z" fill="#E80000" filter="url(#bl)"/>
<path d="M-110.7 -8.6L-69.7 -8.6L-69.7 26.4L-110.7 26.4Z" fill="#FFE040" filter="url(#bl)"/>
<path d="M-110.7 -8.6L-80.7 -8.6L-86.7 1.4L-98.7 13.4L-110.7 17.4Z" fill="#FFEC78" filter="url(#bl)"/>
<path d="M-86.7 13.4L-80.7 5.4L-69.7 2.4L-69.7 26.4L-86.7 26.4Z" fill="#FFC820" filter="url(#bl)"/>
<path d="M-69.7 -8.6L-56.7 -8.6L-56.7 13.4L-69.7 13.4Z" fill="#FFF8A0"/>
<path d="M-81.7 17.4L-73.7 11.4L-66.7 13.4L-64.7 23.4L-70.7 35.4L-81.7 35.4Z" fill="#FFA808" filter="url(#bl)"/>
<path d="M-58.7 3.4L-30.7 3.4L-30.7 23.4L-38.7 33.4L-60.7 33.4Z" fill="#FFF8A0"/>
<path d="M-79.6 35.5L-58.1 29.8L-41.0 21.3L-32.4 21.3L-35.3 31.3L-46.7 41.3L-58.1 49.8L-59.6 55.5L-68.1 59.8L-75.3 65.5L-81.0 78.4L-92.4 88.4L-99.6 87.0L-98.1 78.4L-105.3 74.1L-112.4 65.5L-123.8 61.3L-125.3 55.5L-115.3 47.0L-91.0 48.4Z" fill="#FFF8A0"/>
<path d="M-81.0 37.0L-58.1 31.3L-41.0 24.1L-36.7 27.0L-41.0 34.1L-52.4 41.3L-59.6 47.0L-63.8 52.0L-71.0 54.8L-78.1 61.3L-82.4 71.3L-88.1 78.4L-94.6 81.3L-96.0 74.1L-92.4 65.5L-88.1 58.4Z" fill="#FFE040" filter="url(#bl)"/>
<path d="M-82.4 38.4L-69.6 34.8L-55.3 31.3L-42.4 25.5L-38.8 28.4L-42.4 33.4L-53.8 39.5L-59.6 42.0L-66.7 46.3L-73.8 49.1L-79.6 57.0L-83.1 65.5L-88.1 72.0L-93.1 74.8L-94.6 69.8L-90.3 62.7L-86.7 54.1L-84.6 45.5Z" fill="#FFA808" filter="url(#bl)"/>
<path d="M-81.7 44.1L-77.0 37.7L-66.7 35.8L-53.8 32.0L-43.1 26.3L-39.6 29.1L-43.1 33.4L-55.3 38.4L-63.8 42.0L-71.0 44.1L-76.0 47.0L-79.6 54.1L-82.4 61.3L-86.7 67.7L-91.3 71.0L-93.0 68.1L-89.6 63.0L-86.0 55.8L-84.4 49.1Z" fill="#FF6000" filter="url(#bl)"/>
<path d="M-80.7 44.8L-76.4 38.8L-66.7 37.0L-53.8 33.0L-43.6 27.3L-40.7 29.5L-44.6 33.1L-55.3 37.5L-63.8 40.8L-71.3 42.7L-76.4 45.5L-80.3 52.7L-83.0 59.8L-87.3 66.3L-91.0 69.1L-92.1 67.0L-88.8 62.0L-85.3 55.3L-83.6 49.1Z" fill="#FF2000" filter="url(#bl)"/>
<path d="M-114.6 49.1L-108.1 47.0L-102.4 50.5L-96.7 56.3L-91.0 59.1L-92.4 62.0L-99.6 61.3L-105.3 61.3L-111.0 61.3L-114.6 57.0Z" fill="#FF8800" filter="url(#bl)"/>
<path d="M-113.8 49.8L-107.4 47.7L-103.8 52.7L-105.3 59.1L-111.7 60.5L-114.1 56.3Z" fill="#FF2000" filter="url(#bl)"/>
<path d="M-60.7 59.4L-46.7 51.4L-30.7 50.4L-18.7 43.4L-6.7 35.4L3.3 39.4L4.3 47.4L-6.7 57.4L-22.7 59.4L-38.7 61.4L-54.7 65.4Z" fill="#FFF8A0"/>
<path d="M-46.7 54.4L-30.7 53.4L-20.7 49.4L-18.7 54.4L-32.7 57.0L-45.7 57.4Z" fill="#FFA808" filter="url(#bl)"/>
<path d="M-22.7 51.4L-15.7 41.8L-6.7 36.4L3.3 39.0L3.3 48.4L-5.7 55.4L-18.7 58.4Z" fill="#FF2000" filter="url(#bl)"/>
<path d="M-17.1 51.4L-11.7 45.4L-5.7 41.4L-1.1 42.6L-1.7 47.4L-8.7 51.4L-15.7 53.8Z" fill="#FFB0B0" filter="url(#bl)"/>
<path d="M2.3 41.4L6.3 41.4L6.3 49.4L1.3 50.4Z" fill="#B8E0F8"/>
<path d="M-2.4 26.3L3.3 17.7L16.2 14.8L26.2 6.3L37.6 2.0L46.2 10.5L54.7 19.1L51.9 30.5L47.6 42.0L46.2 59.1L31.9 59.1L30.4 46.3L20.4 43.4L9.0 42.0L0.4 36.3Z" fill="#FFF8A0"/>
<path d="M20.4 30.5L40.4 27.7L43.3 36.3L40.4 44.8L30.4 45.5L23.3 40.5Z" fill="#FFC820" filter="url(#bl)"/>
<path d="M0.4 27.7L4.7 21.3L14.0 19.1L21.9 14.8L27.6 8.4L33.3 9.1L36.2 16.3L39.7 24.1L46.2 27.7L46.9 40.5L43.3 43.4L39.7 36.3L33.3 34.8L26.2 36.3L19.0 36.3L11.9 39.1L3.3 34.8Z" fill="#FF8800" filter="url(#bl)"/>
<path d="M0.4 27.7L5.4 20.8L14.0 19.8L22.2 16.0L27.9 8.8L33.3 9.4L35.9 17.0L39.3 24.8L45.9 28.4L47.3 39.8L43.3 42.3L40.2 35.1L33.3 33.4L26.2 35.5L19.0 35.5L11.9 38.4L3.3 34.8Z" fill="#FF2000" filter="url(#bl)"/>
<path d="M18.3 29.1L22.6 24.1L26.9 17.7L29.3 12.7L32.6 13.4L33.6 22.0L36.4 27.7L39.3 30.8L33.3 30.5L29.0 30.0L24.7 33.4L19.7 32.7Z" fill="#FFB0B0" filter="url(#bl)"/>
<path d="M39.7 20.5L46.2 17.7L51.9 22.0L49.0 27.7L43.3 27.0Z" fill="#FFE040" filter="url(#bl)"/>
<path d="M40.4 22.7L46.2 22.0L48.3 25.5L44.7 27.7Z" fill="#FFA808" filter="url(#bl)"/>
<path d="M34.0 49.8L46.2 47.7L46.2 57.7L37.6 58.4Z" fill="#FF2000" filter="url(#bl)"/>
<path d="M10.4 87.7L20.4 79.1L21.9 60.5L30.4 60.5L30.4 73.4L41.9 70.5L41.9 79.1L36.2 84.8L34.7 96.3L19.0 100.5L11.9 96.3Z" fill="#FFF8A0"/>
<path d="M23.3 77.7L33.3 77.7L34.0 94.8L20.4 99.1L14.0 93.4L19.0 87.7Z" fill="#FFE040" filter="url(#bl)"/>
<path d="M11.2 88.4L19.7 86.3L20.7 99.1L12.6 99.8Z" fill="#FFE040" filter="url(#bl)"/>
<path d="M24.7 77.0L32.6 77.0L31.9 84.8L26.2 86.3Z" fill="#FFA808" filter="url(#bl)"/>
<path d="M20.7 62.0L27.6 61.3L26.9 70.5L29.0 77.0L24.7 79.1L21.2 74.8Z" fill="#FF2000" filter="url(#bl)"/>
<path d="M30.4 77.0L33.3 73.4L40.4 71.3L41.2 75.5L34.7 79.1Z" fill="#FF2000" filter="url(#bl)"/>
<use href="#land"/>
<use href="#coast"/></g><circle class="ring" r="146.0"/></g>
<text class="sub" transform="translate(456.4 73.2) scale(1 1.04)" text-anchor="middle">CESM1-CAM5-BGC-LE #1</text>
<g transform="translate(456.4 236.6)"><g clip-path="url(#clip)">
<path d="M-56.4 -23.7L-46.1 -42.6L-34.1 -49.5L-19.5 -59.7L-17.8 -66.6L-5.0 -64.9L10.5 -58.0L22.5 -51.2L34.5 -39.2L44.7 -32.3L48.2 -15.2L46.5 -1.5L53.3 14.0L56.7 26.0L53.3 39.7L39.6 43.1L19.0 39.7L3.6 36.3L-5.0 43.1L-13.5 53.4L-56.4 53.4Z" fill="#FFF8A0"/>
<path d="M30.2 -34.9L36.2 -36.6L40.5 -32.3L39.6 -16.9L33.6 -15.2L32.7 -25.5L29.3 -29.7Z" fill="#B8E0F8"/>
<path d="M31.9 -26.3L36.2 -25.5L34.5 -19.5L31.9 -21.2Z" fill="#FFFFFF"/>
<path d="M18.2 -9.2L32.7 -12.6L33.6 -6.6L24.2 -2.8L18.2 -4.0Z" fill="#B8E0F8"/>
<path d="M14.7 -40.9L19.0 -40.9L19.9 -32.3L15.6 -33.2Z" fill="#FFFFFF"/>
<path d="M5.3 -46.9L7.9 -46.9L7.9 -44.7L5.3 -44.7Z" fill="#FFFFFF"/>
<path d="M-21.3 1.1L-6.7 1.1L-5.8 8.8L-19.5 9.7Z" fill="#B8E0F8"/>
<path d="M-15.3 2.8L-7.5 2.8L-7.5 8.0L-15.3 8.0Z" fill="#FFFFFF"/>
<path d="M4.5 9.7L8.7 7.1L9.6 10.5L6.2 15.7L3.6 14.0Z" fill="#FFFFFF"/>
<path d="M-5.8 26.8L5.3 26.8L6.2 34.5L0.2 39.7L-5.8 38.0Z" fill="#B8E0F8"/>
<path d="M-56.4 15.7L-46.1 14.0L-35.8 17.4L-34.1 29.4L-46.1 43.1L-56.4 46.5Z" fill="#B8E0F8"/>
<path d="M-22.1 -70.3L19.0 -71.5L21.3 -61.2L12.2 -45.2L-17.5 -45.2L-15.3 -58.9Z" fill="#FFEC80" filter="url(#bl)"/>
<path d="M-19.8 -71.5L5.3 -71.5L3.0 -61.2L-7.3 -54.3L-14.1 -61.2Z" fill="#FFE040" filter="url(#bl)"/>
<path d="M-18.7 -73.7L0.7 -72.6L-1.5 -65.7L-10.7 -63.5L-15.3 -68.0Z" fill="#FFA808" filter="url(#bl)"/>
<path d="M-37.0 -81.7L-33.5 -89.7L-22.1 -94.8L-8.4 -97.1L7.6 -92.5L19.0 -94.3L25.9 -100.0L29.3 -109.2L35.0 -116.0L46.5 -122.4L57.9 -126.8L68.2 -122.4L75.0 -114.2L81.9 -110.3L92.2 -102.3L101.3 -95.5L101.3 -89.7L80.7 -89.7L72.7 -70.3L51.0 -64.6L41.9 -71.5L22.5 -72.6L12.2 -70.3L-37.0 -70.3Z" fill="#FFF8A0"/>
<path d="M23.6 -76.0L35.0 -90.9L44.2 -102.3L57.9 -108.0L73.9 -111.0L78.9 -104.6L80.7 -100.0L92.2 -98.9L89.9 -92.0L76.2 -92.0L68.9 -84.0L69.8 -70.3L51.0 -68.0L39.6 -76.7Z" fill="#FFE660" filter="url(#bl)"/>
<path d="M51.7 -92.0L55.6 -93.2L56.1 -88.1L52.4 -86.8Z" fill="#B8E0F8"/>
<path d="M-34.7 -84.0L-22.1 -89.7L-8.4 -91.3L3.0 -87.9L12.2 -85.6L21.3 -89.1L27.0 -95.9L32.7 -95.5L26.3 -84.5L19.0 -79.0L3.5 -73.1L1.2 -67.6L-10.7 -69.9L-19.8 -74.4L-22.1 -80.1Z" fill="#FFC820" filter="url(#bl)"/>
<path d="M-26.7 -85.2L-17.5 -88.1L-7.3 -87.5L3.0 -85.2L12.2 -82.9L20.2 -86.3L25.4 -92.0L30.0 -93.2L24.1 -83.6L12.2 -77.6L3.5 -74.4L-0.4 -69.2L-8.4 -72.6L-15.3 -77.2L-19.8 -81.7Z" fill="#FF8800" filter="url(#bl)"/>
<path d="M-11.8 -83.6L0.7 -83.6L12.2 -81.1L19.0 -84.5L24.7 -90.2L27.7 -90.9L23.1 -83.6L12.2 -77.9L3.5 -75.3L-1.1 -70.8L-6.6 -74.9Z" fill="#FF2000" filter="url(#bl)"/>
<path d="M-110.4 -8.6L-56.4 -8.6L-56.4 26.4L-110.4 26.4Z" fill="#FFF8A0"/>
<path d="M-83.4 7.4L-76.4 3.4L-68.4 5.4L-66.4 19.4L-60.4 29.4L-76.4 35.4L-81.4 23.4Z" fill="#B8E0F8"/>
<path d="M-50.4 3.4L-30.4 3.4L-30.4 23.4L-46.4 26.4Z" fill="#FFF8A0"/>
<path d="M-66.4 26.4L-38.4 21.4L-36.4 31.4L-46.4 41.4L-58.4 47.4L-68.4 51.4L-74.4 59.4L-78.4 73.4L-88.4 77.4L-92.4 71.4L-88.4 59.4L-84.4 49.4L-76.4 37.4Z" fill="#B8E0F8"/>
<path d="M-76.4 40.4L-60.4 33.4L-43.4 26.4L-41.4 31.4L-56.4 41.4L-68.4 45.4L-76.4 53.4L-80.4 69.4L-88.4 73.4L-89.4 67.4L-85.4 55.4L-82.0 47.4Z" fill="#98D0F0" filter="url(#bl)"/>
<path d="M-73.4 41.4L-62.4 37.4L-59.4 38.6L-68.4 42.6L-74.0 45.8L-77.4 48.4L-76.8 45.0Z" fill="#50C4F8" filter="url(#bl)"/>
<path d="M-116.4 49.4L-100.4 46.4L-90.4 57.4L-96.4 65.4L-114.4 63.4Z" fill="#FFF8A0"/>
<path d="M-113.4 50.4L-101.4 49.0L-96.4 57.4L-102.4 61.8L-111.4 60.4Z" fill="#FFC820" filter="url(#bl)"/>
<path d="M-110.4 52.4L-103.4 51.4L-102.4 57.4L-108.4 59.0Z" fill="#FFA808" filter="url(#bl)"/>
<path d="M-64.4 63.4L-46.4 50.4L-30.4 50.4L-18.4 43.4L-8.4 33.4L1.6 26.4L13.6 23.4L13.6 43.4L3.6 49.4L-6.4 57.4L-14.4 63.4L-22.4 67.4L-38.4 65.4L-56.4 69.4Z" fill="#FFF8A0"/>
<path d="M-7.4 28.4L5.6 26.4L7.6 32.4L-2.4 37.4L-7.4 36.4Z" fill="#B8E0F8"/>
<path d="M-47.4 55.4L-30.4 53.0L-19.4 50.4L-12.4 43.4L-2.4 38.4L13.6 30.4L13.6 39.4L3.6 43.4L-3.4 51.4L-14.4 57.8L-32.4 59.0L-46.4 59.0Z" fill="#FFC820" filter="url(#bl)"/>
<path d="M-18.4 51.4L-12.4 44.4L-4.4 40.4L5.6 36.4L13.6 33.4L13.6 37.4L1.6 42.4L-4.4 50.4L-13.4 55.8Z" fill="#FF8800" filter="url(#bl)"/>
<path d="M-14.4 50.4L-10.4 45.4L-5.4 43.0L-4.0 47.4L-7.4 53.0L-12.4 54.4Z" fill="#FF2000" filter="url(#bl)"/>
<path d="M-16.4 47.7L-5.0 36.3L12.2 27.7L26.5 22.0L40.7 22.0L52.2 30.5L49.3 44.8L40.7 47.7L26.5 46.3L12.2 50.5L7.9 60.5L-13.5 62.0L-16.4 59.1Z" fill="#FFF8A0"/>
<path d="M-5.7 28.4L2.2 27.0L3.6 34.8L-2.8 39.1L-6.4 36.3Z" fill="#B8E0F8"/>
<path d="M-16.4 49.8L-7.8 42.0L-0.7 36.3L6.5 31.7L15.0 27.7L23.6 21.3L30.7 19.1L37.9 24.1L43.6 30.5L47.2 37.7L46.5 46.3L37.9 47.0L26.5 42.7L17.9 40.5L9.3 40.5L2.2 44.8L-3.5 53.4L-12.1 57.7L-16.4 57.7Z" fill="#FFC820" filter="url(#bl)"/>
<path d="M-15.0 49.8L-7.8 44.1L-0.7 38.4L7.2 33.4L15.7 29.8L24.3 23.4L30.7 22.0L37.2 26.3L42.2 32.0L45.0 38.4L44.3 44.8L37.2 45.1L27.9 40.5L19.3 38.0L10.7 38.0L2.9 42.0L-3.5 50.5L-10.7 54.8L-15.0 54.8Z" fill="#FF8800" filter="url(#bl)"/>
<path d="M12.2 34.1L17.2 30.8L24.3 25.5L30.7 24.1L36.5 28.4L40.7 33.4L43.3 39.1L42.2 43.7L36.5 43.7L30.0 39.8L22.2 36.3L14.3 36.3Z" fill="#FF2000" filter="url(#bl)"/>
<path d="M-12.8 49.8L-8.5 46.3L-4.3 46.5L-5.0 51.3L-10.0 54.1L-13.3 53.1Z" fill="#FF2000" filter="url(#bl)"/>
<path d="M30.7 36.3L40.0 34.8L41.5 42.0L35.7 43.4L31.5 39.8Z" fill="#E04048" filter="url(#bl)"/>
<path d="M22.2 29.1L26.5 26.5L32.2 27.1L36.5 30.5L40.0 34.8L39.0 39.4L35.3 41.7L31.0 38.8L26.5 34.8L22.9 32.7Z" fill="#FFB0B0" filter="url(#bl)"/>
<path d="M21.5 62.0L31.5 60.5L30.7 73.4L42.2 71.3L42.2 79.1L32.2 80.5L26.5 79.1L22.2 74.8Z" fill="#FFF8A0"/>
<path d="M23.3 64.8L26.5 64.1L26.5 76.3L32.2 77.7L30.7 79.8L24.3 77.7Z" fill="#FFE040" filter="url(#bl)"/>
<path d="M27.9 79.1L33.6 79.1L33.6 84.8L28.6 84.8Z" fill="#B8E0F8"/>
<use href="#qei"/><use href="#land"/><path d="M84.0 73.0L91.0 72.0L91.0 80.0L84.0 80.0Z" fill="#B8E0F8"/>
<use href="#coast"/></g><circle class="ring" r="146.0"/></g>
<text class="sub" transform="translate(146.9 423.4) scale(1 1.04)" text-anchor="middle">CESM1-CAM5-BGC-LE #2</text>
<g transform="translate(146.7 586.8)"><g clip-path="url(#clip)">
<path d="M-56.7 -23.9L-46.4 -42.8L-34.4 -49.7L-19.8 -59.9L-18.1 -66.8L-5.3 -65.1L10.2 -58.2L22.2 -51.4L34.2 -39.4L44.4 -32.5L47.9 -15.4L46.2 -1.7L53.0 13.8L56.4 25.8L53.0 39.5L49.6 53.2L-13.8 53.2L-31.0 53.2L-56.7 53.2Z" fill="#FFF8A0"/>
<path d="M-0.1 -53.9L5.9 -54.8L15.3 -46.2L21.3 -34.2L17.0 -31.7L11.9 -37.7L6.7 -46.2Z" fill="#FFFFFF"/>
<path d="M0.7 -53.9L5.0 -54.5L7.1 -50.5L3.3 -49.7Z" fill="#B8E0F8"/>
<path d="M-21.0 -18.5L-17.6 -18.8L-10.4 -8.5L-0.1 -1.7L2.4 8.6L-5.3 12.9L-13.8 11.2L-17.6 1.8L-15.6 -6.8Z" fill="#FFFFFF"/>
<path d="M-17.6 1.8L-11.8 0.9L-5.3 12.9L-7.0 20.6L-11.8 17.2L-16.4 8.6Z" fill="#B8E0F8"/>
<path d="M-40.4 10.3L-33.6 9.5L-33.0 14.6L-39.6 15.5Z" fill="#B8E0F8"/>
<path d="M-56.7 32.6L-49.8 31.8L-49.0 38.6L-56.7 39.5Z" fill="#B8E0F8"/>
<path d="M-19.0 -71.7L11.9 -72.8L14.2 -61.4L7.3 -45.4L-17.8 -45.4L-15.6 -59.1Z" fill="#FFE040" filter="url(#bl)"/>
<path d="M-17.4 -72.8L3.2 -72.8L2.3 -57.9L-7.6 -53.4L-14.4 -59.1Z" fill="#FFC820" filter="url(#bl)"/>
<path d="M-1.8 -51.8L10.7 -52.7L11.9 -45.8L-0.7 -45.4Z" fill="#B8E0F8"/>
<path d="M3.2 -49.9L10.0 -50.4L10.7 -46.3L3.9 -45.8Z" fill="#FFFFFF"/>
<path d="M-37.3 -81.9L-32.7 -91.1L-22.4 -95.7L-6.4 -97.3L11.9 -95.7L21.0 -99.1L27.9 -109.4L34.7 -116.2L50.7 -121.3L71.3 -120.1L76.3 -113.9L82.7 -107.1L91.9 -100.2L101.0 -95.7L101.0 -89.9L80.4 -89.9L72.4 -70.5L50.7 -67.1L30.2 -71.7L22.2 -72.8L11.9 -70.5L-37.3 -70.5Z" fill="#FFF8A0"/>
<path d="M-35.0 -83.8L-29.3 -89.9L-17.8 -92.2L-1.8 -92.2L11.9 -91.1L21.0 -94.5L27.9 -100.2L33.6 -97.9L26.7 -85.4L18.7 -79.7L3.2 -73.3L0.9 -67.8L-11.0 -70.1L-20.1 -74.6L-24.7 -80.8Z" fill="#FFE040" filter="url(#bl)"/>
<path d="M-33.8 -84.7L-24.7 -88.8L-11.0 -89.3L2.7 -87.7L14.2 -88.3L22.2 -92.2L28.3 -95.7L30.2 -92.2L24.4 -85.4L16.4 -80.8L3.2 -75.5L0.4 -69.4L-9.8 -71.7L-17.8 -76.2L-22.4 -81.5Z" fill="#FFC820" filter="url(#bl)"/>
<path d="M-24.7 -86.1L-15.6 -87.7L-4.1 -86.1L3.2 -83.8L2.3 -77.4L-1.8 -72.3L-9.8 -73.9L-16.7 -78.5L-21.3 -82.4Z" fill="#FF8800" filter="url(#bl)"/>
<path d="M-18.3 -84.7L-9.8 -85.1L-3.7 -82.4L-4.6 -77.8L-11.0 -76.9L-16.7 -80.1Z" fill="#FF6000" filter="url(#bl)"/>
<path d="M20.6 -89.9L26.7 -93.4L29.7 -91.1L25.1 -85.4L21.0 -83.8Z" fill="#FFA808" filter="url(#bl)"/>
<path d="M39.3 -94.5L46.2 -104.8L57.6 -109.8L73.6 -111.7L79.3 -104.8L80.4 -100.2L91.9 -99.1L89.6 -92.2L75.9 -92.2L71.3 -95.7L62.2 -94.5L50.7 -93.4Z" fill="#FFE040" filter="url(#bl)"/>
<path d="M50.7 -100.2L57.6 -108.2L71.3 -110.5L78.2 -105.9L78.2 -99.1L70.2 -96.8L62.2 -99.1L55.3 -97.5Z" fill="#FFC820" filter="url(#bl)"/>
<path d="M63.3 -107.5L73.6 -109.4L77.7 -104.8L75.9 -100.2L67.9 -100.2L63.3 -103.0Z" fill="#FFA808" filter="url(#bl)"/>
<path d="M74.7 -99.1L87.3 -98.4L86.2 -93.4L75.9 -93.4Z" fill="#FFA808" filter="url(#bl)"/>
<path d="M23.3 -76.2L33.6 -87.7L43.9 -92.2L57.6 -93.4L66.7 -87.7L69.5 -70.5L50.7 -68.2L39.3 -76.2L31.3 -71.7Z" fill="#B8E0F8"/>
<path d="M39.3 -85.4L46.2 -89.9L56.4 -89.3L57.6 -79.7L53.0 -73.9L43.9 -76.9Z" fill="#98D0F0" filter="url(#bl)"/>
<path d="M43.9 -87.0L50.7 -88.3L53.5 -81.9L49.6 -77.8L45.0 -80.1Z" fill="#50C4F8" filter="url(#bl)"/>
<path d="M-110.7 -8.8L-56.7 -8.8L-56.7 26.2L-110.7 26.2Z" fill="#FFF8A0"/>
<path d="M-106.7 -6.8L-72.7 -6.8L-69.7 5.2L-74.7 26.2L-108.7 26.2L-108.7 13.2Z" fill="#FFE040" filter="url(#bl)"/>
<path d="M-90.7 1.6L-79.7 1.2L-78.7 8.8L-88.7 9.6Z" fill="#FFC820" filter="url(#bl)"/>
<path d="M-74.3 9.2L-66.7 11.2L-60.7 23.2L-60.7 33.2L-74.7 35.6L-76.7 26.2Z" fill="#B8E0F8"/>
<path d="M-52.7 9.2L-32.7 7.2L-30.7 23.2L-38.7 35.6L-52.7 35.6Z" fill="#FFF8A0"/>
<path d="M-40.7 4.8L-14.7 4.2L-14.7 13.2L-32.7 13.2L-40.7 11.2Z" fill="#B8E0F8"/>
<path d="M-78.7 35.6L-60.7 30.2L-42.7 30.8L-41.7 39.2L-56.7 42.2L-68.7 44.2L-76.7 47.2L-79.7 57.2L-81.7 71.2L-88.7 71.2L-89.7 63.2L-85.7 51.2L-82.3 43.2Z" fill="#B8E0F8"/>
<path d="M-76.7 38.2L-62.7 34.2L-54.7 35.6L-58.7 40.8L-68.7 42.2L-75.7 43.2Z" fill="#98D0F0" filter="url(#bl)"/>
<path d="M-75.1 38.4L-63.7 35.6L-60.7 37.6L-68.7 40.8L-74.3 41.2Z" fill="#50C4F8" filter="url(#bl)"/>
<path d="M-116.7 49.2L-100.7 46.2L-89.7 57.2L-91.7 68.2L-114.7 65.2Z" fill="#FFF8A0"/>
<path d="M-114.3 50.2L-101.7 48.2L-92.7 58.2L-94.7 66.2L-111.7 62.2Z" fill="#FFE040" filter="url(#bl)"/>
<path d="M-112.7 51.2L-104.7 50.8L-103.7 58.8L-110.7 59.2Z" fill="#FFC820" filter="url(#bl)"/>
<path d="M-61.7 64.2L-46.7 50.2L-30.7 50.2L-18.7 43.2L-14.7 49.2L-14.7 63.2L-22.7 65.6L-38.7 65.2L-56.7 67.2Z" fill="#FFF8A0"/>
<path d="M-30.7 55.2L-20.7 54.8L-20.3 61.2L-30.3 61.6Z" fill="#B8E0F8"/>
<path d="M-11.7 30.2L1.3 25.2L11.3 30.2L12.3 43.2L5.3 48.2L1.3 41.2L-6.7 39.2L-11.7 37.2Z" fill="#B8E0F8"/>
<path d="M-17.7 52.2L-10.7 41.2L-3.7 31.2L3.3 30.2L5.3 38.2L1.3 49.2L-6.7 57.6L-15.7 59.2Z" fill="#FFF8A0"/>
<path d="M-16.3 52.8L-9.7 42.8L-3.1 33.6L2.3 33.2L3.3 38.8L-0.3 48.2L-7.1 55.6L-14.7 57.6Z" fill="#FFC820" filter="url(#bl)"/>
<path d="M-13.1 52.2L-7.7 43.2L-2.3 35.6L1.3 35.6L1.3 40.2L-2.3 48.2L-7.7 53.6L-12.3 55.2Z" fill="#FF8800" filter="url(#bl)"/>
<path d="M-8.7 48.2L-5.7 42.2L-1.7 36.8L0.1 37.6L-0.7 41.6L-3.7 46.8L-6.7 50.2Z" fill="#FF2000" filter="url(#bl)"/>
<path d="M-15.3 3.2L-8.1 2.1L-7.0 13.2L-13.8 14.6Z" fill="#B8E0F8"/>
<path d="M-8.1 -1.1L-1.0 -1.1L-0.7 16.1L-7.4 16.1Z" fill="#FFFFFF"/>
<path d="M11.2 24.9L18.3 24.3L19.0 30.6L11.9 31.5Z" fill="#B8E0F8"/>
<path d="M-16.7 58.2L-11.0 56.1L-6.0 57.5L-6.7 66.8L-12.4 68.9L-16.7 67.5Z" fill="#B8E0F8"/>
<path d="M-12.4 36.1L-2.4 28.9L4.7 28.9L-2.4 34.6L-11.0 43.2Z" fill="#B8E0F8"/>
<path d="M-16.7 51.1L-9.6 41.8L-2.4 34.6L3.3 31.8L11.9 33.2L19.0 30.3L20.7 21.8L26.2 18.9L37.6 21.8L44.0 30.3L44.7 41.8L40.4 48.2L30.4 48.2L24.7 41.8L19.0 38.9L11.9 39.2L3.3 38.9L-1.0 47.5L-8.1 56.1L-16.7 60.3Z" fill="#FFE040" filter="url(#bl)"/>
<path d="M-16.7 52.5L-8.8 43.2L-2.4 36.1L3.3 33.5L11.9 34.9L19.7 32.5L21.9 23.9L26.2 21.1L35.4 23.5L41.2 30.6L42.2 40.3L38.3 46.3L31.2 46.3L26.2 41.1L19.7 37.2L11.9 37.5L2.6 37.2L-1.7 45.3L-8.8 53.9L-16.7 58.2Z" fill="#FFC820" filter="url(#bl)"/>
<path d="M-14.6 53.2L-8.1 43.9L-2.4 37.8L1.2 38.9L-2.4 46.8L-8.8 52.5L-13.8 56.1Z" fill="#FF8800" filter="url(#bl)"/>
<path d="M22.2 30.6L24.7 24.9L30.4 23.5L36.4 28.9L38.3 37.5L35.0 44.3L30.2 43.9L26.9 38.9L23.3 35.8Z" fill="#FF8800" filter="url(#bl)"/>
<path d="M25.9 31.1L29.7 29.6L33.6 33.9L33.6 41.1L30.4 41.8L27.3 37.2Z" fill="#FF2000" filter="url(#bl)"/>
<path d="M-8.8 46.3L-4.6 39.6L-1.3 38.6L-2.1 43.2L-6.0 49.2Z" fill="#FF2000" filter="url(#bl)"/>
<path d="M21.2 61.8L31.2 60.3L30.4 73.2L41.9 71.1L41.9 78.9L34.0 80.3L33.6 87.5L26.2 87.5L24.7 78.9L21.9 74.6Z" fill="#FFF8A0"/>
<path d="M22.6 63.5L27.3 63.2L26.9 76.1L32.6 77.2L36.4 74.6L36.4 77.8L31.2 80.1L24.7 78.6Z" fill="#FFE040" filter="url(#bl)"/>
<path d="M23.0 65.3L25.6 65.1L25.6 69.2L23.3 69.2Z" fill="#FFA808" filter="url(#bl)"/>
<use href="#qei"/><use href="#land"/>
<use href="#coast"/></g><circle class="ring" r="146.0"/></g>
<text class="sub" transform="translate(456.4 423.4) scale(1 1.04)" text-anchor="middle">CESM1-CAM5-BGC-LE #3</text>
<g transform="translate(456.4 586.8)"><g clip-path="url(#clip)">
<path d="M-56.4 -23.9L-46.1 -42.8L-34.1 -49.7L-19.5 -53.1L-11.8 -47.9L0.2 -49.7L10.5 -58.2L22.5 -51.4L34.5 -39.4L44.7 -32.5L48.2 -15.4L46.5 -1.7L53.3 13.8L56.7 25.8L53.3 39.5L49.9 53.2L-13.5 53.2L-30.7 53.2L-56.4 53.2Z" fill="#FFF8A0"/>
<path d="M-12.7 -48.8L-5.0 -56.2L8.7 -57.4L19.0 -50.5L25.9 -41.1L32.7 -29.9L33.6 -21.9L24.2 -24.8L19.0 -31.7L12.2 -43.7L0.2 -48.8L-10.1 -45.4Z" fill="#FFFFFF"/>
<path d="M19.0 -50.5L24.2 -52.2L36.2 -39.4L42.2 -32.5L39.6 -21.9L33.6 -21.9L32.7 -29.9L25.9 -41.1Z" fill="#FFF8A0"/>
<path d="M16.5 -8.5L24.2 -8.9L24.5 -1.7L17.0 -1.3Z" fill="#FFFFFF"/>
<path d="M-8.4 5.2L0.2 5.2L2.7 13.8L-5.0 15.5Z" fill="#FFFFFF"/>
<path d="M-26.4 -14.5L-20.4 -10.2L-19.5 -5.1L-25.5 -7.7Z" fill="#FFFFFF"/>
<path d="M-17.8 -66.8L-5.0 -65.1L0.2 -56.5L-5.0 -49.7L-12.7 -48.8L-19.5 -53.1L-19.5 -59.9Z" fill="#B8E0F8"/>
<path d="M-53.8 22.3L-46.1 17.2L-39.3 18.9L-38.4 29.2L-46.1 37.8L-53.8 36.1Z" fill="#B8E0F8"/>
<path d="M-7.5 22.3L5.3 19.8L19.0 25.8L19.9 39.5L8.7 41.2L3.6 44.6L-7.5 43.8Z" fill="#B8E0F8"/>
<path d="M-5.0 29.2L1.9 25.8L5.0 29.2L2.7 37.8L-1.5 42.9L-5.8 42.1Z" fill="#50C4F8" filter="url(#bl)"/>
<path d="M-4.6 35.7L-0.7 34.3L0.2 38.6L-2.9 41.5L-5.3 40.3Z" fill="#2080F8" filter="url(#bl)"/>
<path d="M-47.3 -70.5L-34.7 -87.7L-31.3 -94.5L-19.8 -97.5L-10.7 -94.5L3.0 -84.2L19.0 -97.9L27.0 -99.1L27.7 -91.1L19.0 -83.1L3.5 -73.9L4.2 -61.4L3.0 -46.5L-19.8 -46.5L-16.4 -59.1L-22.1 -68.2L-34.7 -79.7Z" fill="#B8E0F8"/>
<path d="M-14.1 -92.9L0.7 -94.5L21.3 -92.2L20.2 -83.8L5.3 -82.4L-7.3 -85.4Z" fill="#FFF8A0"/>
<path d="M-33.5 -87.7L-27.8 -92.9L-16.4 -92.2L-10.7 -87.7L0.7 -81.9L1.9 -71.7L-10.7 -69.4L-17.5 -76.9L-25.5 -80.8L-32.4 -83.1Z" fill="#98D0F0" filter="url(#bl)"/>
<path d="M-32.4 -87.7L-26.7 -91.5L-17.1 -90.6L-14.1 -85.4L-18.7 -80.8L-26.7 -81.9L-31.7 -84.2Z" fill="#50C4F8" filter="url(#bl)"/>
<path d="M-34.7 -45.4L-10.7 -48.8L12.2 -46.5L31.6 -45.4L31.6 -36.2L-34.7 -36.2Z" fill="#FFF8A0"/>
<path d="M22.5 -73.9L27.0 -104.8L35.0 -113.9L51.0 -119.7L67.0 -120.3L76.2 -113.9L83.0 -107.1L92.2 -100.2L101.3 -95.7L101.3 -89.9L80.7 -89.9L72.7 -69.4L51.0 -65.9L30.5 -71.7Z" fill="#FFF8A0"/>
<path d="M61.3 -109.4L73.9 -111.7L80.7 -107.1L81.9 -99.1L92.2 -100.2L89.9 -92.9L76.2 -92.2L68.2 -91.1L62.5 -97.9Z" fill="#B8E0F8"/>
<path d="M44.2 -72.8L71.6 -75.1L71.6 -65.9L46.5 -65.5Z" fill="#B8E0F8"/>
<path d="M23.6 -76.2L33.9 -91.1L41.9 -102.5L53.3 -108.2L63.6 -107.1L67.0 -95.7L68.2 -81.9L67.0 -72.8L51.0 -68.7L39.6 -76.9Z" fill="#FFE040" filter="url(#bl)"/>
<path d="M33.9 -81.9L40.7 -95.7L48.7 -103.7L59.0 -103.7L62.5 -93.4L61.3 -80.8L51.0 -75.1L41.9 -78.5Z" fill="#FFC820" filter="url(#bl)"/>
<path d="M42.3 -88.8L46.5 -96.8L54.5 -98.4L57.4 -91.1L54.5 -83.1L46.5 -81.9Z" fill="#FFA808" filter="url(#bl)"/>
<path d="M-110.4 -8.8L-56.4 -8.8L-56.4 26.2L-110.4 26.2Z" fill="#FFF8A0"/>
<path d="M-104.4 -6.8L-72.4 -6.8L-69.4 5.2L-74.4 26.2L-108.4 26.2L-108.4 13.2Z" fill="#FFE040" filter="url(#bl)"/>
<path d="M-83.4 4.2L-74.0 3.2L-71.4 17.2L-78.4 20.2L-82.8 13.2Z" fill="#FFC820" filter="url(#bl)"/>
<path d="M-81.4 26.2L-66.4 23.2L-56.4 26.2L-58.4 41.2L-68.4 52.2L-80.4 53.2L-83.4 43.2Z" fill="#FFF8A0"/>
<path d="M-79.4 30.2L-68.4 27.6L-59.4 31.2L-61.4 39.6L-72.4 42.2L-79.4 39.2Z" fill="#FFC820" filter="url(#bl)"/>
<path d="M-74.8 33.2L-66.4 32.2L-64.0 36.8L-69.4 39.6L-74.4 38.2Z" fill="#FFA808" filter="url(#bl)"/>
<path d="M-52.4 3.2L-30.4 3.2L-30.4 23.2L-38.4 35.6L-52.4 35.6Z" fill="#FFF8A0"/>
<path d="M-53.4 23.2L-46.4 20.2L-37.4 21.2L-38.4 33.2L-47.4 36.2L-53.4 33.2Z" fill="#B8E0F8"/>
<path d="M-67.4 39.2L-56.4 38.2L-56.0 45.6L-66.8 46.2Z" fill="#B8E0F8"/>
<path d="M-85.4 53.2L-76.4 52.2L-76.4 61.2L-80.4 71.2L-89.4 72.2L-92.4 65.2Z" fill="#B8E0F8"/>
<path d="M-116.4 49.2L-100.4 46.2L-89.4 57.2L-91.4 68.2L-114.4 65.2Z" fill="#FFF8A0"/>
<path d="M-114.0 50.2L-101.4 48.2L-92.4 58.2L-94.4 65.2L-111.4 62.2Z" fill="#FFE040" filter="url(#bl)"/>
<path d="M-112.4 51.2L-102.8 50.8L-102.0 59.6L-110.4 60.2Z" fill="#FFC820" filter="url(#bl)"/>
<path d="M-57.4 65.2L-46.4 50.2L-30.4 49.2L-18.4 43.2L-6.4 43.2L1.6 51.2L1.6 63.2L-6.4 69.2L-22.4 68.2L-38.4 65.2Z" fill="#FFF8A0"/>
<path d="M-46.4 54.8L-30.4 52.2L-20.4 48.2L-10.4 46.2L-6.4 51.2L-10.4 58.2L-20.4 60.2L-32.4 58.8L-45.4 58.2Z" fill="#FFC820" filter="url(#bl)"/>
<path d="M-40.4 55.2L-26.4 53.2L-19.4 48.8L-11.4 47.6L-8.4 51.6L-12.0 56.8L-20.4 58.8L-32.4 57.6Z" fill="#FF8800" filter="url(#bl)"/>
<path d="M-19.4 53.6L-15.4 49.2L-10.4 48.8L-10.0 53.2L-14.4 57.6L-18.4 57.6Z" fill="#FF2000" filter="url(#bl)"/>
<path d="M-9.4 9.2L1.6 7.2L6.0 23.2L5.6 41.2L-2.4 44.2L-10.0 41.2L-8.4 26.2Z" fill="#B8E0F8"/>
<path d="M-6.8 29.2L-1.4 24.2L2.6 26.2L2.6 39.2L-3.4 42.2L-7.2 39.2Z" fill="#50C4F8" filter="url(#bl)"/>
<path d="M-5.6 34.2L-2.0 31.2L0.0 36.2L-2.8 40.2L-5.6 38.8Z" fill="#2080F8" filter="url(#bl)"/>
<path d="M11.5 26.8L19.3 26.8L20.0 40.3L12.2 41.1Z" fill="#B8E0F8"/>
<path d="M40.7 20.3L50.7 19.6L51.0 27.5L41.5 28.2Z" fill="#B8E0F8"/>
<path d="M19.3 21.8L25.0 18.6L33.6 20.3L43.6 28.9L46.5 40.3L43.6 48.2L32.2 48.2L25.0 42.5L20.0 34.6Z" fill="#FFE040" filter="url(#bl)"/>
<path d="M21.0 23.9L25.7 21.1L32.9 23.2L40.7 30.6L43.3 40.3L40.7 46.3L32.9 46.3L26.5 41.1L21.9 33.9Z" fill="#FFC820" filter="url(#bl)"/>
<path d="M22.9 26.1L26.5 23.5L32.2 26.3L38.6 33.2L40.7 41.1L38.6 44.9L32.9 44.6L27.9 39.6L23.9 33.2Z" fill="#FF8800" filter="url(#bl)"/>
<path d="M26.2 30.6L30.0 30.3L35.7 35.8L37.9 41.1L34.3 42.1L29.6 37.8L26.7 34.3Z" fill="#FF2000" filter="url(#bl)"/>
<path d="M-16.4 44.6L-7.8 43.9L-0.7 50.3L-1.4 61.8L-7.8 68.9L-16.4 70.3Z" fill="#FFF8A0"/>
<path d="M-16.4 46.8L-9.3 46.1L-4.3 50.3L-5.7 56.1L-12.1 60.3L-16.4 61.1Z" fill="#FFC820" filter="url(#bl)"/>
<path d="M-16.4 48.2L-10.0 47.5L-6.4 51.1L-8.5 54.9L-13.5 57.8L-16.4 58.2Z" fill="#FF8800" filter="url(#bl)"/>
<path d="M-16.4 50.1L-11.4 49.2L-9.0 51.8L-11.4 54.3L-16.4 56.1Z" fill="#FF2000" filter="url(#bl)"/>
<path d="M22.9 72.5L32.2 73.2L32.9 84.6L26.5 84.6L23.6 78.9Z" fill="#B8E0F8"/>
<path d="M22.5 62.9L28.2 62.6L27.9 72.5L32.9 77.5L32.2 79.6L26.5 76.1L22.9 73.2Z" fill="#FFE040" filter="url(#bl)"/>
<path d="M23.6 64.6L26.5 64.3L26.5 70.3L24.0 70.3Z" fill="#FFA808" filter="url(#bl)"/>
<use href="#qei"/><use href="#land"/><path d="M85.0 70.0L91.0 69.0L91.0 76.0L85.0 76.0Z" fill="#B8E0F8"/>
<use href="#coast"/></g><circle class="ring" r="146.0"/></g>
<text class="sub" transform="translate(146.9 773.6) scale(1 1.04)" text-anchor="middle">CESM1-CAM5-BGC-LE #4</text>
<g transform="translate(146.7 937.0)"><g clip-path="url(#clip)">
<path d="M-56.7 -24.1L-46.4 -43.0L-34.4 -49.9L-19.8 -60.1L-18.1 -67.0L-5.3 -65.3L10.2 -58.4L22.2 -51.6L34.2 -39.6L44.4 -32.7L47.9 -15.6L46.2 -1.9L53.0 13.6L56.4 25.6L53.0 39.3L49.6 53.0L-13.8 53.0L-31.0 53.0L-56.7 53.0Z" fill="#FFF8A0"/>
<path d="M-18.1 -22.1L-5.3 -23.3L-2.7 -15.6L-7.0 -7.9L-6.1 1.6L-14.7 1.6L-16.4 -7.9L-19.8 -12.1Z" fill="#FFFFFF"/>
<path d="M-4.4 7.6L3.3 5.0L11.9 1.6L20.4 0.7L21.3 6.7L11.9 13.6L1.6 16.1L-4.4 14.4Z" fill="#FFFFFF"/>
<path d="M17.0 -35.3L22.2 -34.4L29.0 -25.9L33.3 -17.3L29.0 -14.7L22.2 -22.1L17.4 -30.1Z" fill="#FFFFFF"/>
<path d="M10.2 -51.6L15.3 -51.6L15.3 -46.1L10.2 -46.1Z" fill="#FFFFFF"/>
<path d="M17.0 -43.0L20.8 -43.0L20.8 -39.2L17.0 -39.2Z" fill="#FFFFFF"/>
<path d="M-10.8 -56.4L-5.3 -57.1L-4.9 -49.9L-10.1 -49.5Z" fill="#B8E0F8"/>
<path d="M32.4 -33.6L36.7 -33.6L37.2 -24.1L32.8 -24.1Z" fill="#B8E0F8"/>
<path d="M-7.0 22.1L2.4 19.6L5.9 29.0L4.2 42.7L-5.3 45.3L-10.4 39.3Z" fill="#B8E0F8"/>
<path d="M-5.6 34.1L-0.1 31.6L1.6 37.6L-1.5 43.6L-6.1 42.7Z" fill="#50C4F8" filter="url(#bl)"/>
<path d="M-4.9 35.9L-1.0 34.5L-0.1 39.3L-2.7 42.7L-5.3 41.3Z" fill="#2080F8" filter="url(#bl)"/>
<path d="M-35.0 -82.1L-33.8 -91.3L-27.0 -97.7L-16.7 -95.9L-8.7 -90.1L-7.6 -82.1L-20.1 -81.0Z" fill="#B8E0F8"/>
<path d="M-22.4 -79.9L-19.0 -87.9L-6.4 -91.3L11.9 -90.1L19.9 -94.7L23.3 -105.0L32.4 -111.9L46.2 -115.3L54.2 -111.9L50.7 -100.4L41.6 -91.3L27.9 -84.4L21.0 -77.1L3.2 -71.9L1.6 -67.3L-12.1 -68.4L-20.1 -73.0Z" fill="#FFF8A0"/>
<path d="M-20.1 -81.0L-15.6 -86.3L-4.1 -89.0L11.9 -87.9L19.9 -91.3L24.4 -86.7L19.9 -78.7L3.2 -73.5L0.4 -68.4L-11.0 -69.6L-18.3 -74.8Z" fill="#FFE040" filter="url(#bl)"/>
<path d="M22.2 -100.4L32.4 -109.6L46.2 -112.3L50.7 -108.4L47.3 -99.3L39.3 -92.4L30.2 -87.9L23.3 -91.3Z" fill="#FFE040" filter="url(#bl)"/>
<path d="M-14.4 -82.1L-4.1 -86.3L9.6 -85.6L18.7 -87.9L23.3 -84.9L18.7 -79.9L3.2 -75.3L-0.7 -70.7L-8.7 -72.5L-14.4 -77.1Z" fill="#FFC820" filter="url(#bl)"/>
<path d="M-6.0 -83.3L3.2 -84.9L11.9 -84.0L17.6 -84.9L19.9 -82.1L11.9 -78.0L3.2 -76.4L-3.0 -77.1Z" fill="#FFA808" filter="url(#bl)"/>
<path d="M17.8 -84.9L22.4 -86.3L23.8 -82.6L20.1 -80.3Z" fill="#FF2000" filter="url(#bl)"/>
<path d="M-20.1 -68.4L18.7 -69.6L31.3 -45.6L31.3 -36.4L-35.0 -36.4L-22.4 -50.1Z" fill="#FFF8A0"/>
<path d="M-11.0 -55.2L-6.0 -55.2L-6.0 -49.7L-11.0 -49.7Z" fill="#B8E0F8"/>
<path d="M9.6 -50.6L21.0 -50.6L21.5 -41.0L10.0 -41.0Z" fill="#FFFFFF"/>
<path d="M22.2 -74.1L34.7 -87.9L43.9 -100.4L53.0 -111.9L62.2 -116.9L75.9 -115.3L80.4 -107.3L80.4 -90.1L72.4 -69.6L50.7 -65.7L34.7 -71.9Z" fill="#B8E0F8"/>
<path d="M72.4 -105.0L86.2 -103.9L86.8 -91.3L73.6 -91.3Z" fill="#FFF8A0"/>
<path d="M33.6 -83.3L39.3 -95.9L46.2 -106.1L55.3 -110.0L63.3 -108.4L62.2 -99.3L53.0 -91.3L43.9 -82.1L37.0 -77.1Z" fill="#FFE040" filter="url(#bl)"/>
<path d="M41.6 -91.3L46.2 -102.7L55.3 -107.7L61.0 -106.1L58.7 -99.3L50.7 -92.4L45.0 -85.6Z" fill="#FFC820" filter="url(#bl)"/>
<path d="M50.7 -89.0L57.6 -94.7L65.6 -93.6L66.7 -79.9L61.0 -73.5L53.0 -76.4Z" fill="#98D0F0" filter="url(#bl)"/>
<path d="M53.5 -87.9L58.7 -91.7L63.3 -90.1L64.0 -81.0L59.4 -76.4L54.8 -78.7Z" fill="#50C4F8" filter="url(#bl)"/>
<path d="M-110.7 -9.0L-56.7 -9.0L-56.7 26.0L-110.7 26.0Z" fill="#FFF8A0"/>
<path d="M-106.7 -7.0L-72.7 -7.0L-69.7 5.0L-72.7 26.0L-108.7 26.0L-108.7 13.0Z" fill="#FFC820" filter="url(#bl)"/>
<path d="M-96.7 -2.0L-86.7 -6.0L-76.7 -3.0L-73.1 7.0L-75.7 18.0L-86.7 20.0L-94.7 16.0L-97.7 7.0Z" fill="#FFA808" filter="url(#bl)"/>
<path d="M-79.7 19.0L-66.7 20.0L-64.7 33.0L-78.7 35.4Z" fill="#FFC820" filter="url(#bl)"/>
<path d="M-52.7 3.0L-30.7 3.0L-30.7 23.0L-38.7 35.4L-52.7 35.4Z" fill="#FFF8A0"/>
<path d="M-30.7 -9.0L-22.7 -9.0L-16.7 3.0L-17.7 11.0L-26.7 9.0L-30.3 1.0Z" fill="#B8E0F8"/>
<path d="M-86.7 35.4L-66.7 31.0L-46.7 30.0L-36.7 33.0L-38.7 47.0L-46.7 59.0L-56.7 71.0L-66.7 63.0L-74.3 63.0L-76.7 71.0L-93.7 73.0L-94.7 61.0L-87.7 51.0Z" fill="#FFF8A0"/>
<path d="M-83.7 43.0L-76.7 35.4L-66.7 34.0L-54.7 33.4L-50.7 38.0L-60.7 43.0L-70.7 46.6L-76.7 53.0L-79.7 61.0L-86.7 62.0L-86.7 53.0Z" fill="#FFC820" filter="url(#bl)"/>
<path d="M-82.3 47.0L-76.7 40.0L-67.7 36.6L-56.7 35.4L-54.3 38.6L-64.7 41.4L-72.7 44.6L-78.3 51.4L-81.7 58.0L-85.7 58.0L-85.1 52.0Z" fill="#FF8800" filter="url(#bl)"/>
<path d="M-80.3 46.6L-75.7 41.4L-67.7 38.0L-59.7 37.0L-59.1 39.0L-67.7 41.0L-73.7 44.0L-78.7 50.0L-81.1 52.0Z" fill="#FF6000" filter="url(#bl)"/>
<path d="M-116.7 49.0L-100.7 46.0L-88.7 57.0L-90.7 69.0L-114.7 66.0Z" fill="#FFF8A0"/>
<path d="M-114.3 50.0L-101.7 48.0L-91.7 58.0L-93.7 66.6L-111.7 62.6Z" fill="#FFC820" filter="url(#bl)"/>
<path d="M-112.7 52.0L-103.1 51.0L-102.3 60.0L-110.7 60.6Z" fill="#FFA808" filter="url(#bl)"/>
<path d="M-64.7 67.0L-50.7 49.0L-30.7 47.0L-14.7 41.0L-2.7 43.0L2.3 51.0L1.3 63.0L-6.7 69.0L-22.7 68.0L-38.7 67.0L-56.7 72.0Z" fill="#FFF8A0"/>
<path d="M-53.7 58.0L-44.7 50.0L-30.7 50.0L-18.7 45.0L-6.7 44.0L-2.3 50.0L-6.7 60.0L-18.7 63.4L-32.7 61.4L-46.7 60.0Z" fill="#FFC820" filter="url(#bl)"/>
<path d="M-50.7 57.4L-43.7 52.0L-30.7 52.0L-18.7 47.0L-7.7 45.4L-4.3 50.0L-8.3 58.6L-18.7 62.0L-32.7 60.0L-45.7 59.0Z" fill="#FF8800" filter="url(#bl)"/>
<path d="M-47.7 56.6L-42.7 53.4L-30.7 53.4L-19.7 49.4L-9.1 47.0L-6.3 50.6L-9.7 57.4L-18.7 60.6L-31.7 58.6L-43.7 58.0Z" fill="#FF2000" filter="url(#bl)"/>
<path d="M-26.7 55.4L-19.7 51.4L-10.7 49.0L-8.3 52.0L-11.7 57.4L-19.7 59.4Z" fill="#D00000" filter="url(#bl)"/>
<path d="M-21.7 56.0L-17.1 53.0L-12.7 52.6L-12.3 55.4L-16.3 58.6L-20.7 58.6Z" fill="#FFB0B0" filter="url(#bl)"/>
<path d="M-10.7 26.0L-4.3 19.0L2.9 20.0L4.3 35.0L2.3 44.0L-6.7 45.0L-11.1 40.0Z" fill="#B8E0F8"/>
<path d="M-6.7 35.4L-2.3 32.0L0.9 34.0L0.5 42.0L-5.1 43.4Z" fill="#50C4F8" filter="url(#bl)"/>
<path d="M-5.5 36.6L-2.3 34.0L-0.3 37.0L-1.1 42.0L-4.7 42.6Z" fill="#2080F8" filter="url(#bl)"/>
<path d="M14.0 30.4L17.6 23.7L24.7 20.1L33.3 21.6L40.4 27.3L44.7 35.9L43.3 45.1L34.7 46.6L26.2 41.6L20.7 38.7L15.0 35.9Z" fill="#FFE040" filter="url(#bl)"/>
<path d="M15.9 30.4L19.0 24.7L25.0 21.9L32.6 23.3L38.3 28.7L41.2 35.9L39.3 43.0L33.6 43.7L27.6 39.4L21.9 36.6L16.9 34.4Z" fill="#FFC820" filter="url(#bl)"/>
<path d="M19.7 28.7L22.6 24.7L27.6 23.3L32.6 25.6L35.9 30.4L36.4 35.9L31.9 36.6L26.2 34.4L21.6 32.7Z" fill="#FFA808" filter="url(#bl)"/>
<path d="M25.4 37.6L32.6 37.6L33.0 45.1L25.9 45.1Z" fill="#B8E0F8"/>
<path d="M40.4 10.1L44.7 9.9L45.0 14.4L40.7 14.4Z" fill="#B8E0F8"/>
<path d="M-16.7 43.0L-6.7 42.3L-0.7 50.1L-1.7 61.6L-8.1 70.1L-16.7 70.9Z" fill="#FFF8A0"/>
<path d="M-16.7 45.1L-8.8 44.4L-3.1 49.4L-4.6 55.9L-11.0 61.6L-16.7 62.3Z" fill="#FFC820" filter="url(#bl)"/>
<path d="M-16.7 46.6L-9.6 45.9L-4.6 49.9L-6.4 55.1L-12.4 59.4L-16.7 60.1Z" fill="#FF8800" filter="url(#bl)"/>
<path d="M-16.7 48.0L-10.3 47.0L-6.0 50.1L-7.8 54.4L-13.1 58.0L-16.7 58.7Z" fill="#FF2000" filter="url(#bl)"/>
<path d="M-16.7 50.4L-12.4 49.9L-10.7 52.3L-13.1 55.1L-16.7 55.9Z" fill="#FFB0B0" filter="url(#bl)"/>
<path d="M21.6 61.6L29.3 61.3L29.0 73.0L22.6 73.0Z" fill="#B8E0F8"/>
<path d="M31.6 77.0L36.4 77.0L36.4 80.4L31.9 80.4Z" fill="#B8E0F8"/>
<use href="#qei"/><use href="#land"/><path d="M84.0 72.0L90.0 71.0L90.0 78.0L84.0 78.0Z" fill="#FFF8A0"/>
<use href="#coast"/></g><circle class="ring" r="146.0"/></g>
<text class="sub" transform="translate(456.4 773.6) scale(1 1.04)" text-anchor="middle">CESM1-CAM5-BGC-LE #5</text>
<g transform="translate(456.4 937.0)"><g clip-path="url(#clip)">
<path d="M-56.4 -24.1L-46.1 -43.0L-34.1 -49.9L-19.5 -60.1L-17.8 -67.0L-5.0 -65.3L10.5 -58.4L22.5 -51.6L34.5 -39.6L44.7 -32.7L48.2 -15.6L46.5 -1.9L39.6 1.6L29.3 5.0L20.7 13.6L12.2 22.1L3.6 25.6L-5.0 42.7L-13.5 53.0L-30.7 53.0L-56.4 53.0Z" fill="#FFF8A0"/>
<path d="M-22.1 -7.0L-10.6 -10.9L3.6 -13.3L12.2 -9.9L19.0 -10.4L27.6 -10.8L33.1 -4.9L27.6 1.9L19.0 8.4L12.2 11.9L3.6 15.3L0.7 24.4L-5.0 23.3L-7.2 15.3L-15.3 8.4L-22.1 1.6Z" fill="#FFFFFF"/>
<path d="M16.5 -9.1L27.6 -10.1L32.4 -4.9L27.3 1.2L19.9 0.2L21.6 -4.4Z" fill="#B8E0F8"/>
<path d="M9.6 2.4L19.0 1.9L19.0 8.1L12.2 11.0L8.7 8.4Z" fill="#B8E0F8"/>
<path d="M3.6 8.4L12.2 6.7L19.9 9.3L22.5 17.0L15.6 20.4L7.0 19.6L2.7 15.3Z" fill="#FFF8A0"/>
<path d="M1.0 -47.8L12.2 -50.5L19.4 -44.7L24.5 -34.4L29.7 -25.9L24.2 -24.8L17.3 -32.7L10.5 -40.9L1.9 -43.7Z" fill="#FFFFFF"/>
<path d="M-37.2 -31.9L-30.7 -33.1L-29.0 -26.7L-32.4 -23.8L-37.2 -25.0Z" fill="#FFFFFF"/>
<path d="M-52.6 23.0L-46.5 21.3L-45.8 28.1L-51.3 29.3Z" fill="#FFFFFF"/>
<path d="M-40.1 8.4L-34.1 7.6L-33.8 12.7L-39.6 13.2Z" fill="#B8E0F8"/>
<path d="M25.9 1.6L39.6 -1.9L46.5 -1.9L53.3 13.6L56.7 25.6L53.3 39.3L46.5 49.6L32.7 49.6L25.9 35.9L24.2 22.1Z" fill="#B8E0F8"/>
<path d="M30.2 2.4L38.7 1.2L42.7 9.3L35.3 12.7L30.2 8.4Z" fill="#FFFFFF"/>
<path d="M-6.7 21.3L3.6 19.6L19.0 18.7L24.2 22.1L19.0 29.0L8.7 29.0L5.3 39.3L-5.0 45.3L-10.1 39.3Z" fill="#B8E0F8"/>
<path d="M3.6 29.0L12.2 35.9L19.0 42.7L12.2 51.3L1.9 53.0L-5.0 49.6L0.2 39.3Z" fill="#FFF8A0"/>
<path d="M-18.7 -71.9L9.9 -73.0L12.2 -61.6L5.3 -50.1L-15.3 -49.0L-15.3 -59.3Z" fill="#FFE040" filter="url(#bl)"/>
<path d="M-17.1 -73.0L1.9 -73.0L0.7 -59.3L-7.9 -55.9L-14.1 -60.4Z" fill="#FFC820" filter="url(#bl)"/>
<path d="M3.5 -49.0L17.2 -49.5L17.7 -42.8L4.2 -42.4Z" fill="#FFFFFF"/>
<path d="M-43.8 -79.9L-37.0 -79.9L-37.0 -72.5L-43.8 -72.5Z" fill="#B8E0F8"/>
<path d="M-37.0 -82.1L-32.4 -91.3L-22.1 -95.9L-6.1 -97.5L12.2 -95.9L21.3 -99.3L30.5 -111.4L44.2 -117.6L62.5 -121.5L73.9 -118.3L81.2 -110.0L92.2 -100.4L101.3 -95.9L101.3 -90.1L80.7 -90.1L72.7 -69.6L51.0 -66.1L30.5 -71.9L22.5 -73.0L12.2 -70.7L-37.0 -70.7Z" fill="#FFF8A0"/>
<path d="M-34.7 -84.0L-29.0 -90.1L-17.5 -92.4L-1.5 -92.4L12.2 -91.3L21.3 -94.7L27.0 -98.1L28.6 -91.3L23.6 -83.3L16.7 -78.7L3.5 -73.5L1.2 -68.0L-10.7 -70.3L-19.8 -74.8L-24.4 -81.0Z" fill="#FFE040" filter="url(#bl)"/>
<path d="M-33.5 -84.9L-24.4 -89.0L-10.7 -89.5L3.0 -88.5L14.5 -88.5L22.5 -91.7L24.7 -87.9L20.2 -82.1L3.5 -75.3L0.7 -69.6L-9.5 -71.9L-17.5 -76.4L-22.1 -81.7Z" fill="#FFC820" filter="url(#bl)"/>
<path d="M-22.1 -85.6L-13.0 -87.9L-1.5 -87.2L9.9 -85.6L13.3 -82.1L6.5 -77.1L-0.4 -71.9L-8.4 -73.5L-15.3 -78.0L-19.8 -82.1Z" fill="#FF8800" filter="url(#bl)"/>
<path d="M-11.1 -83.3L-3.4 -84.9L3.5 -82.6L1.9 -77.6L-4.3 -75.7L-9.5 -78.7Z" fill="#FF2000" filter="url(#bl)"/>
<path d="M47.6 -82.1L57.9 -85.6L68.2 -87.9L71.6 -70.7L51.0 -68.0L44.2 -75.3Z" fill="#FFE040" filter="url(#bl)"/>
<path d="M67.0 -109.6L78.5 -111.4L81.9 -106.1L92.2 -100.4L89.9 -91.7L76.2 -91.7L68.2 -94.7Z" fill="#FFE040" filter="url(#bl)"/>
<path d="M71.6 -105.0L80.7 -105.0L86.5 -98.6L84.2 -93.6L75.0 -94.0Z" fill="#FFC820" filter="url(#bl)"/>
<path d="M22.5 -74.1L33.9 -87.9L41.9 -100.4L51.0 -107.3L62.5 -106.1L68.2 -98.1L67.0 -87.9L57.9 -83.3L51.0 -77.1L44.2 -68.4L35.0 -71.9Z" fill="#B8E0F8"/>
<path d="M38.5 -87.9L44.2 -99.3L52.2 -104.5L61.3 -102.7L63.6 -92.4L56.7 -84.4L47.6 -81.0L40.7 -82.1Z" fill="#98D0F0" filter="url(#bl)"/>
<path d="M43.0 -90.1L46.9 -98.1L53.3 -100.4L59.0 -97.7L59.0 -90.1L53.3 -84.9L46.5 -84.4Z" fill="#00C0FF" filter="url(#bl)"/>
<path d="M45.3 -91.3L48.7 -96.3L53.8 -97.7L56.7 -94.7L55.6 -89.5L50.6 -86.7L46.5 -87.9Z" fill="#18A0FF" filter="url(#bl)"/>
<path d="M-110.4 -9.0L-56.4 -9.0L-56.4 26.0L-110.4 26.0Z" fill="#FFF8A0"/>
<path d="M-92.4 2.0L-72.4 1.0L-69.4 13.0L-74.4 26.0L-106.4 26.0L-107.4 17.0Z" fill="#FFEC78" filter="url(#bl)"/>
<path d="M-96.8 -4.6L-88.0 -5.4L-88.4 9.0L-96.4 10.0Z" fill="#B8E0F8"/>
<path d="M-86.4 35.4L-66.4 31.0L-46.4 30.0L-36.4 33.0L-38.4 47.0L-46.4 59.0L-56.4 71.0L-66.4 67.0L-74.0 63.0L-76.4 71.0L-93.4 73.0L-94.4 61.0L-87.4 51.0Z" fill="#FFF8A0"/>
<path d="M-80.0 35.4L-66.4 34.0L-57.4 36.6L-60.4 43.0L-72.4 44.6L-79.4 43.0Z" fill="#FFEC78" filter="url(#bl)"/>
<path d="M-78.0 36.6L-67.4 36.0L-65.4 41.0L-74.0 43.0L-77.4 41.4Z" fill="#FFE040" filter="url(#bl)"/>
<path d="M-52.4 3.0L-30.4 3.0L-30.4 23.0L-38.4 35.4L-52.4 35.4Z" fill="#FFF8A0"/>
<path d="M-116.4 49.0L-100.4 46.0L-88.4 57.0L-90.4 69.0L-114.4 66.0Z" fill="#FFF8A0"/>
<path d="M-114.0 50.6L-101.4 48.6L-93.4 57.4L-95.4 64.0L-111.4 62.6Z" fill="#FFE040" filter="url(#bl)"/>
<path d="M-100.8 56.6L-94.0 56.6L-94.0 61.4L-100.4 61.4Z" fill="#B8E0F8"/>
<path d="M-62.8 67.0L-50.4 50.0L-30.4 48.0L-14.4 41.0L1.6 39.0L13.6 37.0L13.6 51.0L3.6 52.0L1.6 63.0L-6.4 68.0L-22.4 67.0L-38.4 66.0L-56.4 69.0Z" fill="#FFF8A0"/>
<path d="M-9.4 26.0L-1.4 19.0L6.0 21.0L5.6 35.0L-0.4 43.0L-7.4 41.0Z" fill="#B8E0F8"/>
<path d="M-47.4 56.6L-38.4 53.0L-26.4 53.0L-18.4 46.0L-6.4 40.0L0.0 41.4L-0.8 51.0L-7.4 58.6L-18.4 62.0L-32.4 60.6L-46.4 60.0Z" fill="#FFC820" filter="url(#bl)"/>
<path d="M-40.4 56.6L-28.4 54.6L-22.4 51.0L-17.4 46.6L-6.4 41.4L-1.4 43.0L-2.4 50.6L-8.4 57.0L-18.4 60.6L-31.4 59.0Z" fill="#FF8800" filter="url(#bl)"/>
<path d="M-28.4 57.4L-22.4 52.6L-16.4 47.4L-6.4 42.6L-2.4 44.0L-4.0 50.6L-9.4 56.0L-18.4 59.4Z" fill="#FF2000" filter="url(#bl)"/>
<path d="M-24.0 56.6L-18.4 51.0L-10.4 46.0L-4.8 44.6L-5.4 50.0L-10.4 55.0L-18.4 58.6Z" fill="#D00000" filter="url(#bl)"/>
<path d="M-20.4 55.4L-16.0 51.0L-10.0 48.0L-8.0 50.0L-11.4 54.6L-17.4 57.8Z" fill="#FFB0B0" filter="url(#bl)"/>
<path d="M9.6 31.0L13.6 30.6L13.6 37.4L10.0 37.0Z" fill="#FF2000" filter="url(#bl)"/>
<path d="M13.6 21.6L20.7 17.3L35.0 10.1L37.9 7.3L50.7 7.3L51.5 30.1L49.3 47.3L30.7 47.3L26.5 40.1L19.3 40.1L14.3 33.0Z" fill="#B8E0F8"/>
<path d="M3.6 1.6L20.7 0.1L25.0 10.1L21.0 21.6L9.3 23.7L4.3 15.9Z" fill="#FFF8A0"/>
<path d="M9.3 1.6L17.9 1.6L17.2 8.7L10.0 9.4Z" fill="#FFFFFF"/>
<path d="M21.0 22.3L26.5 20.1L32.9 22.3L32.9 30.4L26.5 31.9L21.5 28.7Z" fill="#FFE040" filter="url(#bl)"/>
<path d="M22.9 23.3L27.2 21.6L31.5 23.7L31.0 29.0L26.5 30.1L23.3 28.0Z" fill="#FFC820" filter="url(#bl)"/>
<path d="M28.6 32.3L35.0 30.9L40.7 33.7L41.5 42.3L36.5 45.1L30.7 43.0L28.2 37.6Z" fill="#50C4F8" filter="url(#bl)"/>
<path d="M30.0 35.1L35.7 33.7L39.0 37.3L37.2 42.3L32.2 42.3L29.6 39.0Z" fill="#00C0FF" filter="url(#bl)"/>
<path d="M8.2 30.4L12.2 26.6L21.0 25.1L27.2 28.7L26.5 35.9L21.0 39.0L14.3 39.9L9.6 36.6Z" fill="#FFC820" filter="url(#bl)"/>
<path d="M9.6 31.3L13.6 28.0L21.0 27.0L25.0 29.9L24.3 35.1L20.0 37.6L14.3 38.4L10.7 35.6Z" fill="#FF8800" filter="url(#bl)"/>
<path d="M11.5 32.7L15.7 29.4L21.0 28.7L22.9 31.3L21.0 35.1L15.7 37.0L12.2 35.9Z" fill="#FF2000" filter="url(#bl)"/>
<path d="M-16.4 31.6L-5.0 32.3L5.0 35.9L5.0 50.1L-0.7 61.6L-7.8 68.0L-16.4 68.7Z" fill="#FFF8A0"/>
<path d="M-10.7 19.4L0.7 18.7L6.5 23.7L5.0 31.6L-5.0 32.3L-10.7 28.7Z" fill="#B8E0F8"/>
<path d="M-16.4 43.7L-9.3 40.9L-2.1 39.9L-0.4 46.1L-4.3 54.4L-10.7 60.1L-16.4 61.6Z" fill="#FFC820" filter="url(#bl)"/>
<path d="M-16.4 45.6L-9.3 42.3L-2.8 41.6L-1.8 46.1L-5.3 53.0L-11.4 58.0L-16.4 59.4Z" fill="#FF8800" filter="url(#bl)"/>
<path d="M-16.4 47.3L-9.3 43.7L-3.8 43.3L-3.3 46.6L-6.7 51.9L-12.1 56.1L-16.4 57.6Z" fill="#FF2000" filter="url(#bl)"/>
<path d="M-15.7 50.9L-11.4 48.0L-8.5 48.7L-10.0 52.3L-13.5 54.7L-15.7 54.7Z" fill="#FFB0B0" filter="url(#bl)"/>
<path d="M21.9 61.6L29.6 61.3L29.3 67.6L22.2 67.6Z" fill="#B8E0F8"/>
<path d="M22.5 67.6L28.2 67.3L28.6 74.4L32.9 77.3L32.9 84.4L26.5 84.4L23.6 77.3Z" fill="#FFF8A0"/>
<use href="#qei"/><use href="#land"/>
<use href="#coast"/></g><circle class="ring" r="146.0"/></g>
<text class="sub" transform="translate(301.7 1123.8) scale(1 1.04)" text-anchor="middle">CESM1-CAM5-BGC-LE #6</text>
<g transform="translate(301.5 1287.2)"><g clip-path="url(#clip)">
<path d="M-56.7 -23.7L-46.4 -42.6L-34.4 -49.5L-19.8 -59.7L-18.1 -66.6L-5.3 -64.9L10.2 -58.0L22.2 -51.2L34.2 -39.2L44.4 -32.3L47.9 -15.2L46.2 -1.5L53.0 14.0L56.4 26.0L53.0 39.7L49.6 53.4L-13.8 53.4L-31.0 53.4L-56.7 53.4Z" fill="#FFF8A0"/>
<path d="M0.7 -46.9L11.9 -49.5L20.4 -42.6L25.6 -32.3L29.0 -23.7L32.4 -15.2L29.0 -7.5L20.4 0.3L11.9 8.8L-0.1 15.7L-11.8 14.0L-16.4 8.8L-11.8 4.5L-0.1 1.1L9.3 -6.6L12.7 -16.9L16.2 -25.5L11.9 -35.7L5.0 -40.9Z" fill="#FFFFFF"/>
<path d="M-12.1 -52.9L-5.3 -53.2L-4.9 -46.9L-11.8 -46.4Z" fill="#FFFFFF"/>
<path d="M29.0 -33.2L36.7 -34.9L40.2 -22.0L38.4 -10.0L32.4 -9.2L32.4 -15.2L29.0 -23.7Z" fill="#B8E0F8"/>
<path d="M15.3 5.4L22.2 1.1L29.0 -0.6L29.9 6.3L22.2 11.4L16.2 14.0L11.9 14.0Z" fill="#B8E0F8"/>
<path d="M-0.1 15.3L8.4 12.6L9.3 17.4L1.6 19.5Z" fill="#B8E0F8"/>
<path d="M-23.3 7.1L-16.4 6.3L-15.6 12.3L-22.4 12.6Z" fill="#B8E0F8"/>
<path d="M-7.0 21.7L2.4 19.1L5.0 29.4L1.6 43.1L-5.3 45.7L-9.6 39.7Z" fill="#B8E0F8"/>
<path d="M-5.6 38.8L-1.8 37.1L-1.0 42.3L-4.9 44.0Z" fill="#50C4F8" filter="url(#bl)"/>
<path d="M32.4 14.0L41.0 12.3L53.0 14.0L56.4 26.0L53.0 39.7L46.2 50.0L39.3 44.8L39.3 29.4L33.3 22.5Z" fill="#B8E0F8"/>
<path d="M-20.1 -71.5L5.0 -72.1L6.2 -61.2L0.4 -56.6L-14.4 -56.6L-16.7 -63.5Z" fill="#FFE040" filter="url(#bl)"/>
<path d="M-17.8 -72.1L0.4 -72.1L-0.7 -62.3L-9.8 -59.3L-15.1 -63.5Z" fill="#FFC820" filter="url(#bl)"/>
<path d="M-13.3 -54.3L-3.7 -54.3L-3.7 -46.3L-12.8 -46.3Z" fill="#FFFFFF"/>
<path d="M0.4 -49.3L18.7 -49.7L19.9 -36.0L1.6 -36.0Z" fill="#FFFFFF"/>
<path d="M-46.4 -70.3L-45.3 -85.2L-33.8 -94.3L-22.4 -97.7L-6.4 -98.2L11.9 -95.9L21.0 -98.9L28.3 -105.7L31.3 -97.7L30.2 -84.0L22.2 -72.6L11.9 -70.3Z" fill="#FFF8A0"/>
<path d="M-37.3 -81.7L-32.7 -90.9L-22.4 -94.3L-6.4 -95.0L11.9 -93.2L21.0 -95.9L27.4 -98.9L29.7 -90.9L23.8 -82.9L16.4 -78.3L3.2 -72.6L0.9 -67.6L-11.0 -69.9L-20.1 -73.7L-29.3 -76.7Z" fill="#FFE040" filter="url(#bl)"/>
<path d="M-35.0 -83.6L-28.1 -89.7L-17.8 -92.0L-1.8 -92.0L11.9 -90.9L21.0 -94.3L26.7 -96.6L28.3 -90.9L23.3 -83.6L16.4 -79.5L3.2 -74.4L0.4 -68.9L-9.8 -71.0L-17.8 -75.6L-24.7 -80.1Z" fill="#FFC820" filter="url(#bl)"/>
<path d="M-31.6 -85.2L-24.7 -89.1L-11.0 -89.7L2.7 -88.1L14.2 -87.5L21.0 -91.3L26.0 -94.3L27.0 -88.6L22.2 -82.9L11.9 -79.5L3.2 -76.7L-0.7 -71.5L-7.6 -73.7L-15.6 -78.3L-22.4 -81.7Z" fill="#FF8800" filter="url(#bl)"/>
<path d="M-19.0 -83.6L-12.1 -86.3L-1.8 -85.2L3.2 -81.7L-1.8 -77.6L-9.8 -77.2L-16.7 -79.5Z" fill="#FF2000" filter="url(#bl)"/>
<path d="M18.3 -86.8L22.2 -91.3L26.0 -92.0L26.0 -87.5L22.2 -82.2L18.7 -82.9Z" fill="#FF2000" filter="url(#bl)"/>
<path d="M22.2 -73.1L34.7 -87.5L43.9 -100.0L50.7 -113.7L62.2 -120.6L75.9 -120.1L81.6 -111.5L91.9 -100.0L91.9 -89.7L80.4 -89.7L72.4 -69.2L50.7 -65.3L34.7 -70.3Z" fill="#FFF8A0"/>
<path d="M28.3 -102.8L30.6 -110.3L39.3 -113.7L51.9 -114.2L53.0 -106.9L46.2 -102.3L39.3 -101.9L33.6 -99.6Z" fill="#B8E0F8"/>
<path d="M66.7 -105.7L77.0 -106.9L85.5 -98.9L83.9 -90.9L73.6 -90.9L67.9 -95.5Z" fill="#B8E0F8"/>
<path d="M31.3 -76.7L38.2 -90.9L43.9 -98.9L57.6 -102.3L67.9 -102.3L68.6 -81.7L70.2 -70.3L50.7 -68.0L39.3 -76.0Z" fill="#FFE660" filter="url(#bl)"/>
<path d="M39.8 -83.6L43.4 -90.9L50.7 -93.6L57.1 -90.9L57.6 -82.2L52.6 -78.3L45.0 -78.3Z" fill="#FFC820" filter="url(#bl)"/>
<path d="M-110.7 -8.6L-56.7 -8.6L-56.7 26.4L-110.7 26.4Z" fill="#FFF8A0"/>
<path d="M-106.7 -6.6L-72.7 -6.6L-69.7 5.4L-72.7 26.4L-108.7 26.4L-108.7 13.4Z" fill="#FFC820" filter="url(#bl)"/>
<path d="M-97.7 -0.6L-88.7 -5.6L-80.3 -3.6L-78.7 7.4L-80.3 19.4L-90.7 21.0L-96.7 17.4L-99.1 8.4Z" fill="#FFA808" filter="url(#bl)"/>
<path d="M-95.1 5.8L-87.7 3.4L-83.7 8.4L-84.7 17.0L-91.7 18.4L-95.1 13.4Z" fill="#FF8800" filter="url(#bl)"/>
<path d="M-79.7 22.4L-60.7 23.4L-59.7 35.8L-78.7 36.4Z" fill="#FFC820" filter="url(#bl)"/>
<path d="M-52.7 3.4L-30.7 3.4L-30.7 23.4L-38.7 35.8L-52.7 35.8Z" fill="#FFF8A0"/>
<path d="M-36.7 5.0L-16.7 4.4L-16.3 13.4L-36.3 13.8Z" fill="#B8E0F8"/>
<path d="M-92.7 35.8L-66.7 31.4L-46.7 30.4L-36.7 33.4L-38.7 47.4L-46.7 59.4L-56.7 71.4L-66.7 67.4L-74.3 63.4L-76.7 75.4L-92.7 75.8L-94.7 61.4L-87.7 51.4Z" fill="#FFF8A0"/>
<path d="M-84.7 44.4L-77.7 35.8L-66.7 34.4L-53.7 35.0L-50.3 40.4L-59.7 45.8L-69.7 47.8L-75.7 53.8L-78.7 62.4L-86.7 63.4L-87.1 53.8Z" fill="#FFC820" filter="url(#bl)"/>
<path d="M-83.1 47.8L-77.7 39.8L-67.7 37.0L-56.3 37.0L-53.7 41.0L-63.1 43.8L-71.7 45.8L-77.7 52.4L-81.1 59.4L-85.7 59.4L-85.1 53.0Z" fill="#FF8800" filter="url(#bl)"/>
<path d="M-78.7 43.4L-74.3 39.8L-66.7 38.4L-58.3 38.6L-57.7 41.4L-66.7 42.6L-73.1 44.6L-77.7 47.4Z" fill="#FF6000" filter="url(#bl)"/>
<path d="M-116.7 49.4L-100.7 46.4L-88.7 57.4L-90.7 69.4L-114.7 66.4Z" fill="#FFF8A0"/>
<path d="M-114.3 50.4L-101.7 48.4L-91.7 58.4L-93.7 67.0L-111.7 63.0Z" fill="#FFC820" filter="url(#bl)"/>
<path d="M-112.7 52.4L-103.1 51.4L-102.3 60.4L-110.7 61.0Z" fill="#FFA808" filter="url(#bl)"/>
<path d="M-64.7 68.4L-50.7 49.8L-30.7 47.8L-14.7 41.4L-2.7 43.4L3.3 51.4L1.3 63.4L-6.7 69.8L-22.7 69.0L-38.7 68.4L-56.7 72.4Z" fill="#FFF8A0"/>
<path d="M-54.7 59.4L-46.7 51.4L-30.7 51.0L-18.7 45.8L-8.3 44.4L-5.1 50.4L-8.7 60.4L-18.7 63.8L-32.7 61.8L-46.7 61.8Z" fill="#FFC820" filter="url(#bl)"/>
<path d="M-52.3 58.4L-45.7 53.4L-30.7 53.0L-18.7 47.8L-9.7 46.4L-7.1 51.0L-10.7 59.0L-18.7 62.2L-32.7 60.4L-45.7 60.4Z" fill="#FF8800" filter="url(#bl)"/>
<path d="M-49.7 57.0L-45.1 54.4L-38.7 55.0L-38.7 59.0L-45.7 59.4Z" fill="#FF2000" filter="url(#bl)"/>
<path d="M-29.1 57.0L-22.7 52.4L-14.7 49.4L-11.7 52.4L-14.3 58.4L-20.7 61.0L-27.7 59.8Z" fill="#FF2000" filter="url(#bl)"/>
<path d="M-16.7 -6.6L13.3 -6.6L13.3 9.4L1.3 13.4L-6.7 23.4L-14.7 13.4Z" fill="#FFFFFF"/>
<path d="M-17.7 7.0L-6.7 5.8L-5.7 11.4L-14.7 12.4Z" fill="#B8E0F8"/>
<path d="M-5.7 23.4L3.3 17.8L11.3 13.8L13.3 16.4L5.7 22.4L3.7 33.4L1.3 45.4L-7.1 45.4L-8.7 33.4Z" fill="#B8E0F8"/>
<path d="M-6.7 39.4L-1.7 39.0L-1.7 43.8L-6.3 43.8Z" fill="#50C4F8" filter="url(#bl)"/>
<path d="M10.3 33.0L13.3 33.0L13.3 39.0L10.5 38.6Z" fill="#FF2000" filter="url(#bl)"/>
<path d="M1.9 7.7L11.9 -0.9L19.0 -0.9L19.7 9.1L11.9 17.7L3.3 18.4Z" fill="#B8E0F8"/>
<path d="M39.0 12.7L50.4 12.0L51.2 40.5L46.2 50.5L40.4 50.5L39.7 30.5Z" fill="#B8E0F8"/>
<path d="M-8.1 19.1L0.4 18.8L1.2 44.8L-7.4 44.8Z" fill="#B8E0F8"/>
<path d="M-6.0 37.7L-2.4 37.4L-2.4 42.7L-5.8 42.7Z" fill="#50C4F8" filter="url(#bl)"/>
<path d="M8.7 30.8L11.9 22.7L20.7 19.1L31.9 20.5L39.7 29.1L40.4 42.0L36.4 47.7L26.2 46.3L19.0 41.3L11.2 41.3Z" fill="#FFE040" filter="url(#bl)"/>
<path d="M10.2 31.7L13.3 24.1L20.7 20.8L31.2 22.3L37.6 29.8L38.3 41.3L35.0 45.5L26.9 44.5L19.7 39.8L11.9 39.8Z" fill="#FFC820" filter="url(#bl)"/>
<path d="M11.2 32.3L14.4 25.5L20.7 22.7L29.7 24.1L35.0 30.8L35.4 39.8L31.9 43.1L26.9 42.0L20.7 38.4L12.6 38.8Z" fill="#FF8800" filter="url(#bl)"/>
<path d="M10.4 34.8L14.0 29.1L19.7 27.0L26.2 28.4L26.9 34.1L21.9 36.3L15.4 37.0L13.3 39.4L10.4 38.4Z" fill="#FF2000" filter="url(#bl)"/>
<path d="M16.9 29.1L21.9 28.0L24.7 30.8L22.6 34.1L17.6 34.1Z" fill="#D00000" filter="url(#bl)"/>
<path d="M-16.7 43.4L-8.1 42.7L-2.4 49.8L-3.1 62.0L-8.8 69.1L-16.7 69.8Z" fill="#FFF8A0"/>
<path d="M-16.7 47.0L-10.3 46.5L-6.4 51.3L-8.1 57.7L-13.1 61.3L-16.7 61.7Z" fill="#FFC820" filter="url(#bl)"/>
<path d="M-16.7 49.1L-11.3 48.8L-8.4 52.3L-10.3 57.0L-14.1 59.4L-16.7 59.8Z" fill="#FF8800" filter="url(#bl)"/>
<path d="M-16.7 54.1L-14.6 53.7L-14.1 57.4L-16.7 58.0Z" fill="#FF2000" filter="url(#bl)"/>
<path d="M21.2 62.0L29.3 61.7L29.7 73.4L32.6 77.7L32.6 82.3L26.2 82.3L22.6 77.7Z" fill="#B8E0F8"/>
<use href="#qei"/><use href="#land"/><path d="M88.0 69.0L102.0 68.0L102.0 80.0L88.0 80.0Z" fill="#B8E0F8"/>
<use href="#coast"/></g><circle class="ring" r="146.0"/></g>
<rect x="626.3" y="419.00" width="31.5" height="30.25" fill="#8020F0"/>
<rect x="626.3" y="448.95" width="31.5" height="30.25" fill="#4018F8"/>
<rect x="626.3" y="478.90" width="31.5" height="30.25" fill="#1010FF"/>
<rect x="626.3" y="508.85" width="31.5" height="30.25" fill="#3050E8"/>
<rect x="626.3" y="538.80" width="31.5" height="30.25" fill="#3C70E8"/>
<rect x="626.3" y="568.75" width="31.5" height="30.25" fill="#2080F8"/>
<rect x="626.3" y="598.70" width="31.5" height="30.25" fill="#18A0FF"/>
<rect x="626.3" y="628.65" width="31.5" height="30.25" fill="#00C0FF"/>
<rect x="626.3" y="658.60" width="31.5" height="30.25" fill="#50C4F8"/>
<rect x="626.3" y="688.55" width="31.5" height="30.25" fill="#98D0F0"/>
<rect x="626.3" y="718.50" width="31.5" height="30.25" fill="#B8E0F8"/>
<rect x="626.3" y="748.45" width="31.5" height="30.25" fill="#FFF8A0"/>
<rect x="626.3" y="778.40" width="31.5" height="30.25" fill="#FFE040"/>
<rect x="626.3" y="808.35" width="31.5" height="30.25" fill="#FFC820"/>
<rect x="626.3" y="838.30" width="31.5" height="30.25" fill="#FFA808"/>
<rect x="626.3" y="868.25" width="31.5" height="30.25" fill="#FF8800"/>
<rect x="626.3" y="898.20" width="31.5" height="30.25" fill="#FF6000"/>
<rect x="626.3" y="928.15" width="31.5" height="30.25" fill="#FF2000"/>
<rect x="626.3" y="958.10" width="31.5" height="30.25" fill="#E80000"/>
<rect x="626.3" y="988.05" width="31.5" height="30.25" fill="#D00000"/>
<rect x="626.3" y="1018.00" width="31.5" height="30.25" fill="#E04048"/>
<rect x="626.3" y="1047.95" width="31.5" height="30.25" fill="#FFB0B0"/>
<line x1="626.3" x2="657.8" y1="448.95" y2="448.95" stroke="#6b6b6b" stroke-width="0.8"/>
<line x1="626.3" x2="657.8" y1="478.90" y2="478.90" stroke="#6b6b6b" stroke-width="0.8"/>
<line x1="626.3" x2="657.8" y1="508.85" y2="508.85" stroke="#6b6b6b" stroke-width="0.8"/>
<line x1="626.3" x2="657.8" y1="538.80" y2="538.80" stroke="#6b6b6b" stroke-width="0.8"/>
<line x1="626.3" x2="657.8" y1="568.75" y2="568.75" stroke="#6b6b6b" stroke-width="0.8"/>
<line x1="626.3" x2="657.8" y1="598.70" y2="598.70" stroke="#6b6b6b" stroke-width="0.8"/>
<line x1="626.3" x2="657.8" y1="628.65" y2="628.65" stroke="#6b6b6b" stroke-width="0.8"/>
<line x1="626.3" x2="657.8" y1="658.60" y2="658.60" stroke="#6b6b6b" stroke-width="0.8"/>
<line x1="626.3" x2="657.8" y1="688.55" y2="688.55" stroke="#6b6b6b" stroke-width="0.8"/>
<line x1="626.3" x2="657.8" y1="718.50" y2="718.50" stroke="#6b6b6b" stroke-width="0.8"/>
<line x1="626.3" x2="657.8" y1="748.45" y2="748.45" stroke="#6b6b6b" stroke-width="0.8"/>
<line x1="626.3" x2="657.8" y1="778.40" y2="778.40" stroke="#6b6b6b" stroke-width="0.8"/>
<line x1="626.3" x2="657.8" y1="808.35" y2="808.35" stroke="#6b6b6b" stroke-width="0.8"/>
<line x1="626.3" x2="657.8" y1="838.30" y2="838.30" stroke="#6b6b6b" stroke-width="0.8"/>
<line x1="626.3" x2="657.8" y1="868.25" y2="868.25" stroke="#6b6b6b" stroke-width="0.8"/>
<line x1="626.3" x2="657.8" y1="898.20" y2="898.20" stroke="#6b6b6b" stroke-width="0.8"/>
<line x1="626.3" x2="657.8" y1="928.15" y2="928.15" stroke="#6b6b6b" stroke-width="0.8"/>
<line x1="626.3" x2="657.8" y1="958.10" y2="958.10" stroke="#6b6b6b" stroke-width="0.8"/>
<line x1="626.3" x2="657.8" y1="988.05" y2="988.05" stroke="#6b6b6b" stroke-width="0.8"/>
<line x1="626.3" x2="657.8" y1="1018.00" y2="1018.00" stroke="#6b6b6b" stroke-width="0.8"/>
<line x1="626.3" x2="657.8" y1="1047.95" y2="1047.95" stroke="#6b6b6b" stroke-width="0.8"/>
<rect x="626.3" y="419.00" width="31.5" height="658.90" fill="none" stroke="#6b6b6b" stroke-width="0.8"/>
<text class="cbl" transform="translate(683.5 458.4) scale(1 1.06)" text-anchor="middle">50</text>
<text class="cbl" transform="translate(683.5 488.4) scale(1 1.06)" text-anchor="middle">45</text>
<text class="cbl" transform="translate(683.5 518.4) scale(1 1.06)" text-anchor="middle">40</text>
<text class="cbl" transform="translate(683.5 548.3) scale(1 1.06)" text-anchor="middle">35</text>
<text class="cbl" transform="translate(683.5 578.2) scale(1 1.06)" text-anchor="middle">30</text>
<text class="cbl" transform="translate(683.5 608.2) scale(1 1.06)" text-anchor="middle">25</text>
<text class="cbl" transform="translate(683.5 638.1) scale(1 1.06)" text-anchor="middle">20</text>
<text class="cbl" transform="translate(683.5 668.1) scale(1 1.06)" text-anchor="middle">15</text>
<text class="cbl" transform="translate(683.5 698.0) scale(1 1.06)" text-anchor="middle">10</text>
<text class="cbl" transform="translate(683.5 728.0) scale(1 1.06)" text-anchor="middle">5</text>
<text class="cbl" transform="translate(683.5 758.0) scale(1 1.06)" text-anchor="middle">0</text>
<text class="cbl" transform="translate(683.5 787.9) scale(1 1.06)" text-anchor="middle">-5</text>
<text class="cbl" transform="translate(683.5 817.8) scale(1 1.06)" text-anchor="middle">-10</text>
<text class="cbl" transform="translate(683.5 847.8) scale(1 1.06)" text-anchor="middle">-15</text>
<text class="cbl" transform="translate(683.5 877.8) scale(1 1.06)" text-anchor="middle">-20</text>
<text class="cbl" transform="translate(683.5 907.7) scale(1 1.06)" text-anchor="middle">-25</text>
<text class="cbl" transform="translate(683.5 937.6) scale(1 1.06)" text-anchor="middle">-30</text>
<text class="cbl" transform="translate(683.5 967.6) scale(1 1.06)" text-anchor="middle">-35</text>
<text class="cbl" transform="translate(683.5 997.5) scale(1 1.06)" text-anchor="middle">-40</text>
<text class="cbl" transform="translate(683.5 1027.5) scale(1 1.06)" text-anchor="middle">-45</text>
<text class="cbl" transform="translate(683.5 1057.4) scale(1 1.06)" text-anchor="middle">-50</text>
</svg></body></html>
